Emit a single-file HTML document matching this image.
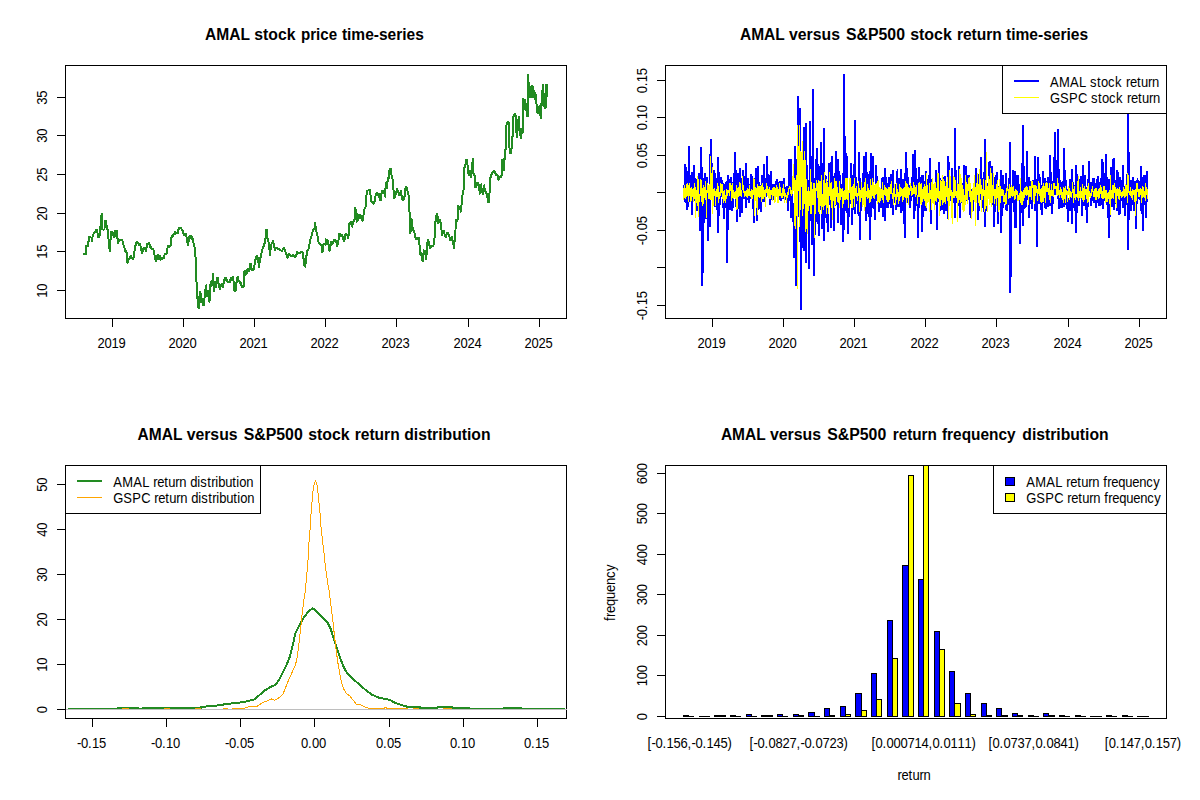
<!DOCTYPE html>
<html><head><meta charset="utf-8"><title>AMAL vs S&amp;P500</title>
<style>
html,body{margin:0;padding:0;background:#fff;}
svg{display:block;font-family:'Liberation Sans', sans-serif;fill:#000;}
</style></head><body>
<svg width="1200" height="800" viewBox="0 0 1200 800">
<rect width="1200" height="800" fill="#fff"/>
<g shape-rendering="crispEdges">
<rect x="65.5" y="65.5" width="501.0" height="253.0" fill="none" stroke="#000" stroke-width="1"/>
<line x1="112.5" y1="318" x2="112.5" y2="327" stroke="#000" stroke-width="1" />
<text transform="translate(97.5 348) scale(0.9286 1)" x="0 7.54 15.08 22.62" y="0" font-size="14">2019</text>
<line x1="183.5" y1="318" x2="183.5" y2="327" stroke="#000" stroke-width="1" />
<text transform="translate(168.5 348) scale(0.9286 1)" x="0 7.54 15.08 22.62" y="0" font-size="14">2020</text>
<line x1="254.5" y1="318" x2="254.5" y2="327" stroke="#000" stroke-width="1" />
<text transform="translate(239.5 348) scale(0.9286 1)" x="0 7.54 15.08 22.62" y="0" font-size="14">2021</text>
<line x1="325.5" y1="318" x2="325.5" y2="327" stroke="#000" stroke-width="1" />
<text transform="translate(310.5 348) scale(0.9286 1)" x="0 7.54 15.08 22.62" y="0" font-size="14">2022</text>
<line x1="396.5" y1="318" x2="396.5" y2="327" stroke="#000" stroke-width="1" />
<text transform="translate(381.5 348) scale(0.9286 1)" x="0 7.54 15.08 22.62" y="0" font-size="14">2023</text>
<line x1="468.5" y1="318" x2="468.5" y2="327" stroke="#000" stroke-width="1" />
<text transform="translate(453.5 348) scale(0.9286 1)" x="0 7.54 15.08 22.62" y="0" font-size="14">2024</text>
<line x1="539.5" y1="318" x2="539.5" y2="327" stroke="#000" stroke-width="1" />
<text transform="translate(524.5 348) scale(0.9286 1)" x="0 7.54 15.08 22.62" y="0" font-size="14">2025</text>
<line x1="57" y1="97.5" x2="66" y2="97.5" stroke="#000" stroke-width="1" />
<text transform="translate(47 104.8) rotate(-90) scale(0.9286 1)" x="0 7.54" y="0" font-size="14">35</text>
<line x1="57" y1="135.5" x2="66" y2="135.5" stroke="#000" stroke-width="1" />
<text transform="translate(47 142.8) rotate(-90) scale(0.9286 1)" x="0 7.54" y="0" font-size="14">30</text>
<line x1="57" y1="174.5" x2="66" y2="174.5" stroke="#000" stroke-width="1" />
<text transform="translate(47 181.8) rotate(-90) scale(0.9286 1)" x="0 7.54" y="0" font-size="14">25</text>
<line x1="57" y1="213.5" x2="66" y2="213.5" stroke="#000" stroke-width="1" />
<text transform="translate(47 220.8) rotate(-90) scale(0.9286 1)" x="0 7.54" y="0" font-size="14">20</text>
<line x1="57" y1="251.5" x2="66" y2="251.5" stroke="#000" stroke-width="1" />
<text transform="translate(47 258.8) rotate(-90) scale(0.9286 1)" x="0 7.54" y="0" font-size="14">15</text>
<line x1="57" y1="290.5" x2="66" y2="290.5" stroke="#000" stroke-width="1" />
<text transform="translate(47 297.8) rotate(-90) scale(0.9286 1)" x="0 7.54" y="0" font-size="14">10</text>
</g>
<text x="205.1" y="39.5" font-size="16" font-weight="bold" textLength="44.93" lengthAdjust="spacingAndGlyphs">AMAL</text>
<text x="254.3" y="39.5" font-size="16" font-weight="bold" textLength="41.13" lengthAdjust="spacingAndGlyphs">stock</text>
<text x="300.9" y="39.5" font-size="16" font-weight="bold" textLength="36.17" lengthAdjust="spacingAndGlyphs">price</text>
<text x="341.9" y="39.5" font-size="16" font-weight="bold" textLength="81.88" lengthAdjust="spacingAndGlyphs">time-series</text>
<path d="M83.5 254 L83.79 254.08 L84.15 255 L84.34 253.79 L84.82 253.79 L85.16 253.97 L85.37 254.58 L85.72 254.47 L86 254 L85.93 251.22 L86 248.93 L86.05 246.79 L86 246 L86.38 245.95 L86.68 245.91 L87.07 246.19 L87.33 246.52 L87.71 246.1 L88 246.5 L88.28 242.99 L88.39 241.56 L88.69 241.68 L88.73 239.16 L89 237 L89.28 236.83 L89.69 238 L89.96 237.07 L90.3 236.54 L90.68 237.38 L91 237.5 L91.37 237.34 L91.75 239.29 L92 241.5 L92.37 240.69 L92.6 234.91 L93 234.5 L93.41 235.41 L93.68 232.08 L94.07 233.13 L94.35 232.3 L94.74 232.35 L95 232 L95.43 231.78 L95.65 232.22 L95.93 231.26 L96.41 229.63 L96.58 230.82 L97 229 L97.21 229.42 L97.57 234.1 L98 232.73 L98.3 237.47 L98.5 238 L98.72 235.95 L99.01 237.37 L99.38 234.07 L99.63 235.38 L100 233 L100.24 230.32 L100.43 230.23 L100.48 225.56 L100.67 226.55 L100.85 222 L101 221.5 L101.29 218.46 L101.4 217.1 L101.55 214.34 L101.8 213.5 L101.84 215.87 L101.97 218.13 L101.94 218.87 L102.02 219.93 L102.21 223.2 L102.29 224.31 L102.34 226.13 L102.46 227.85 L102.5 230 L102.88 229.16 L103.2 229.95 L103.59 229.54 L103.85 229.33 L104.13 230.05 L104.5 229 L104.6 226.42 L104.77 225.27 L104.93 222.38 L105 220.5 L105.21 221.49 L105.56 219.82 L105.84 220.7 L106.2 221.5 L106.34 224.03 L106.59 225.61 L106.8 228.5 L107.06 228.76 L107.37 228.9 L107.77 230.06 L108 230 L108.03 231.06 L108.28 233 L108.29 236.39 L108.41 237.26 L108.5 239 L108.62 241.26 L108.81 243.25 L109.01 243.14 L109.3 246.83 L109.4 247.21 L109.67 250.6 L109.8 252 L109.87 250.48 L110.02 247.53 L110.13 246.68 L110.17 244.41 L110.47 241.78 L110.5 240 L110.77 239.59 L110.94 235.21 L110.97 235.88 L111.2 232.5 L111.63 231.07 L111.92 233.56 L112.25 231.3 L112.55 232.94 L113 232 L113.29 232.81 L113.58 237.4 L114 238 L114.34 235.02 L114.68 236.5 L114.92 232.02 L115.25 232.64 L115.5 230.5 L115.76 229.81 L116.1 231.96 L116.49 229.78 L116.67 232.11 L117 231 L117.21 232.13 L117.32 236.08 L117.34 236.04 L117.6 239.65 L117.73 240.55 L117.8 243 L118.2 243.16 L118.38 240.8 L118.89 241.6 L119.11 239.81 L119.5 239.5 L119.82 240.07 L120.12 239.04 L120.34 240.47 L120.68 239.36 L120.98 240.24 L121.45 238.99 L121.69 240.34 L122 240 L122.3 240.47 L122.68 241.31 L122.97 243.93 L123.26 244.26 L123.68 245.67 L124 246 L124.25 247.5 L124.6 248.57 L125 251 L125.36 250.44 L125.58 252.18 L125.89 251.95 L126.17 250.74 L126.5 252 L126.6 252.59 L126.77 255.7 L126.86 256.92 L127.01 259.48 L127.07 261.92 L127.2 263 L127.64 262.57 L128 262.11 L128.34 260.3 L128.56 259.73 L129 259 L129.4 259.39 L129.73 257.12 L130.03 256.08 L130.25 256.89 L130.68 255.47 L131 256 L131.39 257.28 L131.58 257.68 L132 258.5 L132.41 258.72 L132.6 258.53 L132.92 259.77 L133.4 258.39 L133.76 257.38 L134 258 L134.15 254.82 L134.32 254.4 L134.4 252.29 L134.58 250.58 L134.75 248.46 L134.8 247 L135.13 246.87 L135.49 245.69 L135.69 244.67 L136.08 244.36 L136.34 243.09 L136.67 241.49 L137 241.5 L137.25 241.43 L137.67 243.01 L138.05 243.56 L138.27 243.03 L138.7 243.1 L139 244 L139.3 245.74 L139.68 243.01 L139.82 245.89 L140.28 243.48 L140.5 245.5 L140.79 248.44 L141.04 246.82 L141.34 251.13 L141.66 249.98 L142 253 L142.34 253.29 L142.56 249.43 L142.88 252.27 L143.22 247.95 L143.5 249 L143.78 249.97 L144.07 247.41 L144.43 247.72 L144.81 248.43 L145.1 247.56 L145.5 248 L145.85 251.24 L146 252 L146.19 248.93 L146.47 248.14 L146.6 246.44 L146.8 244 L147.18 243.08 L147.52 244.5 L147.9 243.37 L148.1 243.43 L148.53 244.12 L148.9 243.09 L149.11 242.2 L149.5 244 L149.77 245.06 L150.24 244.74 L150.45 247.56 L150.8 246.3 L151.21 248.9 L151.5 249 L151.75 248.58 L152.13 250.18 L152.52 248.56 L152.73 250.24 L153.15 248.74 L153.5 249.5 L153.75 251.84 L154.14 253.2 L154.45 254.95 L154.67 255.53 L154.99 257.13 L155.45 260.04 L155.78 260.74 L156 262 L156.35 259.76 L156.56 260.35 L156.93 256.71 L157.15 257.59 L157.5 255 L157.89 254.65 L158.11 257.68 L158.4 256.77 L158.74 259.03 L159 259 L159.35 256.58 L159.7 257.02 L160 255 L160.34 255.62 L160.83 259.59 L161.2 260 L161.6 259.03 L161.79 259.99 L162.15 257.88 L162.47 259.66 L162.72 257.42 L163 257.8 L163.43 258.82 L163.7 257.86 L164 257 L164.29 255.95 L164.64 254.25 L165 254 L165.33 254.16 L165.62 253.83 L165.97 254.09 L166.31 253.26 L166.64 252.67 L167 254 L167.14 251.65 L167.05 250.48 L167.2 248 L167.42 248.16 L167.74 247.73 L168.04 245.98 L168.46 245.86 L168.75 247.41 L169 246.5 L169.28 246.02 L169.54 246.05 L169.84 245.18 L170.15 245.92 L170.5 246 L170.69 244.04 L170.83 241.81 L170.89 240.75 L171 238 L171.32 237.55 L171.64 236.13 L171.86 235.76 L172.22 237.79 L172.5 237 L172.85 235.69 L173.13 237.17 L173.4 235.22 L173.64 233.72 L174 234 L174.32 233.74 L174.65 234.67 L174.93 233.84 L175.33 231.65 L175.49 232.56 L175.79 233.54 L176.16 232.05 L176.5 233 L176.84 233.2 L177.25 233.65 L177.5 233.5 L177.87 231.28 L178.09 231.95 L178.5 229 L178.89 229.38 L179.14 227.56 L179.46 228.05 L179.79 227.07 L180 227.5 L180.38 228.3 L180.66 227.34 L180.92 228.43 L181.27 228.65 L181.71 229.25 L182 229 L182.34 230.96 L182.63 230.31 L182.99 233.04 L183.27 233.7 L183.75 234.02 L184 236 L184.31 235.36 L184.67 234.25 L184.9 234.03 L185.28 233.68 L185.66 233.59 L186 233 L186.22 234.42 L186.55 236.84 L186.79 239.05 L187.06 241.37 L187.43 241.16 L187.62 245.12 L188 246 L188.23 242.5 L188.41 243.85 L188.73 238.56 L189 238 L189.43 238.1 L189.59 235.14 L190 235.5 L190.25 237.48 L190.59 234.63 L190.85 237.88 L191.21 235.37 L191.56 239.65 L191.84 235.97 L192.14 239.8 L192.5 239 L192.86 238.33 L193.2 241.47 L193.59 243.29 L193.74 244.28 L194.08 245.63 L194.5 247 L194.61 249.1 L194.93 251.19 L195.19 253.43 L195.3 254.69 L195.5 257 L195.66 259.49 L195.55 259.11 L195.8 262.33 L195.7 265.63 L195.77 266.08 L195.9 269.9 L196.08 269.69 L195.99 273.24 L196.2 274.02 L196.2 276 L196.31 276.5 L196.38 280.27 L196.45 281.05 L196.55 283.37 L196.63 284.1 L196.84 286.6 L196.88 287.53 L197.04 289.94 L197 292.24 L197.2 294 L197.4 294.68 L197.44 298.28 L197.71 300.12 L197.92 303.54 L198 304 L198.32 308.16 L198.71 304.8 L199 309 L199.05 308.76 L199.12 304.09 L199.14 306.06 L199.21 299.57 L199.39 300.93 L199.34 296.39 L199.5 296 L199.93 294.83 L200.3 291 L200.35 290.8 L200.69 296.12 L200.76 295.06 L200.96 300.09 L201.11 298.11 L201.2 302 L201.46 302.95 L201.77 298.63 L202.1 301.42 L202.5 298 L202.84 298.88 L203.08 303.4 L203.19 304.77 L203.5 306 L203.82 304.63 L204.05 301.48 L204.32 299.74 L204.49 298.05 L204.67 297.73 L205 295 L205.26 293.55 L205.34 290.08 L205.65 288.13 L205.72 286.78 L206 285 L206.13 285.19 L206.28 289.86 L206.38 288.23 L206.55 294.46 L206.64 292.74 L206.8 296 L207.17 297.03 L207.52 290.89 L208 291 L208.13 294.27 L208.45 292.08 L208.7 299 L208.89 296.26 L208.98 302.11 L209.2 302 L209.44 297.38 L209.52 300.62 L209.66 293.67 L209.92 296.7 L210 292 L210.25 288.61 L210.25 289.71 L210.46 284.25 L210.69 286.59 L210.88 281.69 L211 281 L211.39 283.86 L211.85 282.03 L212.2 285 L212.32 285.46 L212.49 280.09 L212.62 281.25 L212.92 276.34 L213.13 278.05 L213.2 274 L213.36 273.13 L213.29 279.28 L213.43 277.81 L213.53 283.13 L213.67 281.34 L213.67 286.34 L213.82 284.08 L213.79 289.96 L213.82 287.81 L214 292 L214.25 291.29 L214.41 286.05 L214.66 287.16 L214.95 281.67 L215.2 282 L215.59 286.67 L215.77 283.33 L216.2 288 L216.32 287.55 L216.6 282.55 L216.86 283.66 L217.03 279.43 L217.34 280.31 L217.5 277 L217.79 277.58 L218.15 282.82 L218.5 284 L218.84 283.1 L219.05 287.64 L219.33 286.84 L219.7 288.87 L220 290 L220.37 287.39 L220.53 286.99 L220.8 286.19 L221.28 284.14 L221.5 284 L221.79 283.46 L222.16 284.67 L222.42 284.81 L222.63 286.37 L223 288 L223.24 286.7 L223.61 283.39 L223.88 280.32 L224.19 281.63 L224.5 279 L224.79 277.61 L225.03 279.92 L225.4 277.6 L225.77 279.07 L226 278 L226.39 277.59 L226.51 280.64 L226.91 279.39 L227.16 282.13 L227.5 282 L227.92 280.89 L228.2 282.62 L228.5 281.16 L228.93 283.27 L229.11 280.94 L229.5 282 L229.74 282.49 L230.17 279.55 L230.35 280.4 L230.79 277.49 L231 278 L231.31 279.8 L231.59 279.23 L232 281 L232.43 280.08 L232.61 277.06 L233 276 L233.1 278.58 L233.42 278.78 L233.59 282.84 L233.65 282.3 L234.03 286.14 L234.08 286.26 L234.27 290.68 L234.5 291 L234.71 289.16 L235.19 291.82 L235.48 289.31 L235.8 291.34 L236 290 L236.2 286.19 L236.24 287.09 L236.44 282.07 L236.73 283.16 L236.74 277.92 L237 278 L237.31 278.63 L237.59 277.09 L238 277 L238.29 276.51 L238.59 281.18 L239 281 L239.27 281.45 L239.68 281.73 L239.99 282.06 L240.3 283.37 L240.5 282 L240.77 282.14 L241.1 285.53 L241.36 283.71 L241.67 286.65 L242 287 L242.39 285.5 L242.66 287.83 L242.99 285.36 L243.4 287.47 L243.69 285.35 L244 286 L244.13 285.64 L244.22 281.45 L244.12 281.8 L244.19 277.62 L244.41 277.31 L244.45 273.73 L244.34 273.61 L244.5 271 L244.86 270.56 L245.14 273.94 L245.45 272.43 L245.71 274.81 L246 275 L246.23 272.9 L246.56 273.63 L246.87 270.45 L247.17 271 L247.5 269 L247.9 268.37 L248.17 271.1 L248.36 268.98 L248.65 271.93 L249 271 L249.3 268.55 L249.57 269.31 L249.86 264.78 L250.19 266.36 L250.5 263 L250.84 264.1 L251.26 269.33 L251.5 270 L251.8 268.58 L252.04 271.14 L252.51 268.45 L252.66 271.06 L253.04 267.73 L253.35 271.03 L253.7 268.17 L254 269 L254.29 268.67 L254.64 263.34 L254.86 264.11 L255.18 259.73 L255.5 259 L255.83 259.52 L256.18 258.04 L256.34 256.81 L256.67 256.37 L257 256 L257.25 256.34 L257.63 257.04 L258 258 L258.17 259.96 L258.4 262.19 L258.55 262.72 L258.71 265.72 L258.8 268 L259.14 266.74 L259.32 263.55 L259.7 262.57 L260 260 L260.41 257.97 L260.73 256.88 L261.02 256.01 L261.3 254.16 L261.57 252.6 L262 251 L262.29 250.25 L262.64 248.56 L263.03 247.15 L263.37 246.94 L263.76 245.67 L264 245 L264.34 243.74 L264.65 242.95 L265 241.23 L265.2 239.5 L265.5 238 L265.68 236.24 L265.87 235.58 L266.08 231.68 L266.24 229.36 L266.5 229 L266.68 230.17 L266.81 233.97 L267.19 235.6 L267.22 235.97 L267.5 239 L267.75 239.44 L268.11 238.65 L268.36 241.11 L268.71 242.57 L269 242 L269.08 243.87 L269.21 245.48 L269.43 249.64 L269.63 249.45 L269.8 251.49 L269.8 254.82 L270 256 L270.19 253.02 L270.34 253.32 L270.54 247.92 L270.89 250.01 L271.08 244.94 L271.2 244 L271.47 244.94 L271.76 241.85 L272.15 244.07 L272.5 242 L272.87 240.35 L273.08 243.78 L273.34 241.77 L273.65 244.84 L274 244 L274.3 244.5 L274.61 249.72 L275 251 L275.32 248.98 L275.71 248.45 L276 248 L276.28 247.93 L276.6 247.81 L277.05 247.54 L277.35 247.88 L277.69 249.45 L278 249 L278.39 248.91 L278.74 249.43 L278.95 248.45 L279.41 249.73 L279.73 249.61 L280 250 L280.3 249.27 L280.66 251.23 L281.04 250.04 L281.38 251.21 L281.59 250.16 L282 251 L282.4 250.98 L282.67 249.05 L282.99 249.83 L283.35 247.71 L283.61 248.47 L284 247 L284.35 247.59 L284.56 249.66 L284.98 249.16 L285.21 250.48 L285.5 252 L285.88 254.52 L286.07 254.65 L286.55 254.09 L286.83 256.69 L287.12 256.17 L287.5 258 L287.81 258.12 L288.02 255.69 L288.36 256.42 L288.63 253.86 L289 254 L289.27 255.05 L289.68 253.94 L289.91 255.52 L290.27 254.56 L290.6 256.46 L291 256 L291.32 255.36 L291.7 256.82 L291.92 254.83 L292.21 255.99 L292.65 254.71 L292.96 255.78 L293.17 254.35 L293.5 255 L293.93 255.96 L294.18 255.09 L294.44 256.79 L294.93 255.73 L295.21 257.65 L295.5 257 L295.75 255.11 L296.21 255.22 L296.49 254.5 L296.93 253.09 L297.1 252.2 L297.5 252 L297.83 253.6 L298.07 252.68 L298.47 254.15 L298.74 253.57 L299 254 L299.3 252.68 L299.63 253.46 L299.95 252.29 L300.18 252.31 L300.59 252.28 L300.88 252.07 L301.28 252.68 L301.5 251 L301.77 252.54 L302.01 251.55 L302.48 252.16 L302.64 253.74 L303 255 L303.43 258.45 L303.66 257.77 L304 262 L304.26 265.56 L304.7 263.7 L305 267 L305.27 266.72 L305.69 261.92 L306 261 L306.13 261.09 L306.32 256.09 L306.59 255.17 L306.9 252.22 L307 251 L307.34 250.12 L307.5 249.8 L307.83 249.56 L308.11 250.61 L308.5 249 L308.93 246.62 L309.09 245.59 L309.5 244 L309.89 242.92 L310.16 240.58 L310.44 239.65 L310.82 238.05 L311.11 237.56 L311.5 236 L311.78 234.1 L312.11 234.17 L312.41 232.79 L312.6 230.66 L313 230 L313.21 229.42 L313.61 229.32 L313.85 229.85 L314.23 229.28 L314.5 229 L314.71 225.75 L314.8 223.83 L315 222.5 L315.16 224.26 L315.42 226.51 L315.84 227.22 L316 230 L316.29 230.23 L316.53 231.85 L316.87 234.09 L317.3 234.8 L317.5 236 L317.83 238.68 L318.12 240.65 L318.5 242 L318.74 243.07 L319.16 242.29 L319.57 244.26 L319.91 243.37 L320.13 244.81 L320.5 244 L320.83 245.02 L321.09 245.12 L321.5 246 L321.76 248.65 L321.88 251.75 L322.2 252 L322.62 251.09 L322.9 248.12 L323.18 246.31 L323.5 244 L323.83 244.31 L324.02 243.45 L324.49 244.16 L324.6 243.95 L325 245 L325.49 244.43 L325.84 243.14 L326.2 240 L326.48 238.68 L326.82 242.19 L327.06 240.06 L327.35 243.23 L327.65 240.13 L328 242 L328.27 245.18 L328.57 243.7 L328.66 248.94 L328.87 247.85 L329.2 251 L329.52 250.89 L329.75 246.61 L330.02 248.15 L330.4 244.53 L330.78 245.58 L331 243 L331.27 241.54 L331.51 244.88 L331.95 241.71 L332.25 245.19 L332.5 244 L332.74 241.73 L333.05 242.5 L333.43 241.36 L333.75 241.03 L334 239 L334.33 240.42 L334.64 240.49 L334.94 239.15 L335.31 240.32 L335.75 239.9 L336 241 L336.34 241.99 L336.84 246.11 L337.2 247 L337.62 244.34 L337.93 244.4 L338.1 242.81 L338.5 240 L338.82 239.03 L339.04 234.3 L339.2 233 L339.49 235.03 L339.74 232.79 L340.08 235.62 L340.39 233.27 L340.65 236.39 L341 235 L341.39 234.46 L341.58 236.46 L341.86 233.83 L342.28 236.61 L342.5 236 L342.74 236.02 L343.05 239.73 L343.37 237.31 L343.64 241.05 L344 241 L344.31 238.39 L344.6 239.55 L344.97 236.06 L345.26 237.02 L345.5 234.5 L345.71 233.86 L346.03 234.3 L346.49 234.74 L346.71 235.57 L347 234 L347.32 234.67 L347.88 237.09 L348.2 239 L348.31 237.32 L348.46 234.94 L348.76 235.48 L348.76 231.36 L349 230 L349.15 228.93 L349.36 224.51 L349.5 223 L349.75 223.82 L350.12 221.96 L350.47 222.96 L350.63 221.38 L351 222 L351.26 224.47 L351.68 224.54 L352 227 L352.27 226.67 L352.6 223.82 L352.89 224.57 L353.2 221.04 L353.5 221 L353.77 221.3 L354.16 219.11 L354.5 220 L354.56 219.01 L354.64 214.29 L354.72 213.6 L354.84 211.59 L354.91 209.67 L355 207.5 L355.39 207.46 L355.74 211.03 L356.2 210 L356.26 209.61 L356.4 215.74 L356.55 213.53 L356.74 218.34 L356.94 217.13 L357 221 L357.43 222.25 L357.64 218.36 L358.05 219.54 L358.38 216.16 L358.77 218.81 L359 216 L359.41 214.35 L359.58 217.97 L359.92 214.4 L360.4 217.68 L360.7 215.55 L361 217 L361.24 218.74 L361.51 216.73 L361.99 220.99 L362.24 219.01 L362.5 221 L362.86 220.9 L363.21 215.07 L363.5 215 L363.77 213.92 L364.17 211.02 L364.5 209 L364.85 208.88 L365.09 207.56 L365.5 207 L365.6 205.7 L365.73 202.69 L365.86 202.45 L365.97 200.78 L366 198 L366.27 195.55 L366.75 193.91 L367 191 L367.34 190.1 L367.71 190.97 L368.05 190.2 L368.39 190.99 L368.75 190.08 L369 190 L369.38 190.13 L369.76 188.99 L370 189.5 L370.19 191.13 L370.37 193.74 L370.62 196.11 L370.83 196.55 L370.99 201.38 L371.2 202 L371.53 201.64 L371.82 201.53 L372.2 201.75 L372.38 202.75 L372.83 203.26 L372.98 202.68 L373.42 202.69 L373.63 203.86 L374 204 L374.18 200.75 L374.52 201.66 L374.69 197.1 L375 196 L375.42 196.84 L375.68 193.82 L376.03 196.29 L376.37 192.67 L376.65 195.24 L377 194 L377.24 192.61 L377.63 196.3 L378.03 193.2 L378.33 196.36 L378.67 192.77 L379 195 L379.21 197.56 L379.57 195.75 L379.87 200.22 L380.11 198.89 L380.5 201 L380.67 200.11 L381.02 194.95 L381.29 196.22 L381.5 193 L381.72 190.99 L382.07 194.41 L382.37 190 L382.7 193.29 L383.13 189.69 L383.3 193.18 L383.73 189.77 L384 191 L384.42 193.98 L384.75 192.96 L385 197 L385.12 196.97 L385.15 191.03 L385.22 192.69 L385.46 188.36 L385.55 188.65 L385.68 184.32 L385.74 185.8 L385.8 182 L386.15 184.47 L386.57 186.47 L387 189 L387.21 186.09 L387.31 185.85 L387.37 184.61 L387.53 181.13 L387.64 179.82 L387.8 178 L388.17 176.86 L388.68 178.23 L389 179 L389 176.82 L389.14 174.85 L389.31 172.86 L389.48 169.78 L389.5 170 L389.82 170.03 L390.03 170.55 L390.47 167.9 L390.75 170.03 L391 168.5 L391.15 168.54 L391.28 173.15 L391.5 175 L391.88 177.45 L392.14 176.33 L392.5 179 L392.63 180.16 L392.81 183.64 L392.99 182.84 L393.17 188.1 L393.43 186.88 L393.5 190 L393.72 194.43 L393.77 193.39 L394 197 L394.36 198.49 L394.54 194.42 L394.9 197.67 L395.22 194 L395.5 195 L395.83 195.31 L396.2 190.69 L396.41 192.45 L396.73 188.02 L397 189 L397.37 191.48 L397.66 189.66 L397.92 193.14 L398.22 190.88 L398.5 193 L398.81 194.47 L399.19 192.55 L399.39 196.19 L399.68 192.68 L400 195 L400.27 195.27 L400.72 190.28 L401 191 L401.17 194.93 L401.4 192.99 L401.75 198.66 L402 199 L402.3 197.77 L402.65 200.6 L403 196.93 L403.33 199.38 L403.48 196.31 L403.79 199.71 L404.24 196.01 L404.5 197 L404.71 196.26 L404.92 191.34 L405.07 190.93 L405.32 189.88 L405.5 188 L405.86 186.17 L406.27 186.97 L406.5 187 L406.89 188.94 L407.05 189.93 L407.46 190.61 L407.75 191.95 L408 193 L408.27 194.46 L408.75 195.87 L409 196 L409.14 197.88 L409.13 200.37 L409.16 203.35 L409.3 205.2 L409.32 206.36 L409.42 208.26 L409.5 210 L409.48 211.46 L409.62 212.85 L409.61 217.09 L409.69 217.76 L409.87 220.73 L409.87 223 L409.97 224.02 L409.9 225.15 L409.93 229.35 L410.14 227.91 L410.21 233.59 L410.2 233 L410.35 228.56 L410.53 231.5 L410.61 225.02 L410.69 226.12 L410.91 221.52 L411.15 222.28 L411.2 219 L411.51 218.99 L411.67 225.53 L412.07 222.48 L412.17 228.51 L412.5 229 L412.91 227.29 L413.23 230.57 L413.42 230.09 L413.78 232.26 L414.08 231.18 L414.5 233 L414.89 234.85 L415.05 237.48 L415.46 236.99 L415.69 238.62 L416 239 L416.35 236.94 L416.55 238.1 L417.01 239.71 L417.34 237.76 L417.53 237.59 L417.78 238.06 L418.14 237.51 L418.5 237 L418.78 238.4 L419.07 238.68 L419.23 243.56 L419.5 245 L419.65 245.86 L419.84 249.56 L420.06 252.9 L420.31 251.32 L420.5 255 L420.76 256.08 L421.2 252.42 L421.5 253 L421.86 256.19 L422.13 254.8 L422.5 261.2 L422.8 261 L423.01 256.99 L423.24 259.25 L423.4 254.34 L423.59 255.35 L423.88 250.04 L424 250 L424.36 252.37 L424.64 249.71 L424.99 252.95 L425.13 250.7 L425.5 252 L425.65 256.22 L425.87 254.15 L426.01 259.44 L426.2 260 L426.4 256.34 L426.46 257.62 L426.54 252.69 L426.65 253.72 L426.62 247.91 L426.82 250.21 L426.89 244.75 L427 244 L427.25 243.17 L427.71 240.85 L428 239 L428.41 241.85 L428.64 241.87 L429 243 L429.38 245.45 L429.71 245.68 L430 248 L430.29 248.51 L430.58 246.35 L430.94 247.85 L431.33 246.19 L431.69 247.13 L432 246 L432.42 245.05 L432.6 246.48 L433.09 244.8 L433.25 245.73 L433.71 244.18 L434 244.5 L434.1 242.66 L434.3 239.33 L434.5 238 L434.62 236.86 L434.7 235.35 L434.79 231.55 L434.88 229.58 L434.95 229.06 L435.08 227.25 L435.16 223.06 L435.2 222 L435.41 222.44 L435.9 218.34 L436.16 218.81 L436.31 215.32 L436.6 216.73 L437 214 L437.26 213.36 L437.68 217.72 L437.88 216.13 L438.25 218.88 L438.5 219 L438.08 219.84 L437.91 223.18 L437.5 224 L437.78 222.51 L438.14 224.2 L438.53 221.33 L438.75 223.09 L439.01 219.85 L439.44 221.91 L439.77 219.44 L440 220 L440.3 222 L440.59 222.64 L441 225 L441.19 228.66 L441.34 227.91 L441.67 231.96 L441.81 232.14 L442 235 L442.34 235.56 L442.65 232.07 L443.06 233.43 L443.35 229.98 L443.75 231.83 L444 230 L444.27 231.4 L444.73 236.06 L445 237 L445.26 235 L445.6 237.44 L446.1 233.91 L446.38 235.91 L446.74 232.86 L447 233 L447.24 234.49 L447.75 232.09 L447.99 234.77 L448.3 232.64 L448.72 235.71 L449 235 L449.43 235.8 L449.74 240.64 L450 241 L450.27 238.85 L450.68 241.13 L451.01 237.76 L451.27 239.38 L451.64 235.96 L452 237 L452.43 239.83 L452.7 239.73 L452.93 244.09 L453.4 243.92 L453.75 248.02 L454 249 L454.25 245.95 L454.32 245.91 L454.43 242.14 L454.64 242.28 L454.78 237.7 L455 237 L455.25 234.41 L455.25 232.99 L455.5 230 L455.61 226.84 L455.65 227.19 L455.73 224.98 L455.8 222.79 L456 221 L456.26 219.33 L456.56 221.19 L456.8 220.5 L457.23 219.89 L457.5 220 L457.5 218.83 L457.66 216.52 L457.67 214.52 L457.81 211.29 L457.81 209.92 L457.9 207.74 L458 206 L458.33 205.56 L458.55 206.38 L458.84 207.22 L459.12 206.38 L459.5 207 L459.88 208.39 L460.08 209.4 L460.49 208.1 L460.75 211.71 L461 212 L461.14 210.04 L461.24 208.71 L461.38 205.68 L461.62 204.45 L461.71 201.31 L461.88 199.47 L462 198 L462.37 196.33 L462.59 194.64 L462.95 192.1 L463.17 193.29 L463.5 190 L463.53 189.01 L463.56 186.46 L463.58 185.36 L463.72 183.27 L463.77 180.18 L463.74 178.88 L463.7 177.73 L463.82 175.66 L463.91 175.1 L463.85 170.64 L463.93 169.87 L464 168 L464.33 167.74 L464.59 167.32 L464.93 165.73 L465.22 165.17 L465.5 164 L465.79 161.79 L466.08 159.91 L466.5 159.5 L466.84 161.65 L467.12 162.66 L467.5 165 L467.76 166.79 L467.86 168.29 L468.08 172.65 L468.26 170.28 L468.5 174 L468.8 175.47 L469.02 171.21 L469.36 175.78 L469.79 170.09 L470 173 L470.37 175.84 L470.59 173.75 L471 177 L471.25 178.08 L471.36 170.59 L471.51 174.61 L471.7 167.13 L471.9 170.72 L472 166 L472.19 162.29 L472.52 164.54 L472.82 158.45 L473 158.5 L473.1 163.3 L473.16 160.1 L473.25 165.94 L473.33 164.75 L473.27 170.63 L473.39 168.5 L473.48 174.2 L473.5 174 L473.88 173.16 L474.09 175.62 L474.42 174.58 L474.69 176.88 L475 177 L475.08 180 L475.12 179.82 L475.17 184.31 L475.4 183.42 L475.42 187.43 L475.5 188 L475.84 185.48 L476.15 187.2 L476.47 184.19 L476.73 185.19 L477 183 L477.35 182.02 L477.62 184.67 L477.97 182.4 L478.14 185.55 L478.5 184 L478.76 184.6 L478.77 189.76 L479 191 L479.43 190.06 L479.72 193.97 L480 194 L480.15 190.06 L480.36 191.76 L480.6 186.23 L480.72 187.38 L481 184 L481.37 184.4 L481.58 189.16 L482 190 L482.29 190.41 L482.72 194.69 L483 194 L483.25 190.3 L483.38 191.37 L483.67 186.64 L483.86 188.81 L484 185 L484.39 185.33 L484.65 190.92 L485 191 L485.26 190.55 L485.55 192.63 L485.86 190.67 L486.12 193.71 L486.5 193 L486.84 193.42 L487.26 197.86 L487.5 198 L487.78 198.77 L488.25 202.24 L488.5 203 L488.73 199.62 L488.8 201.2 L489.13 198.19 L489.28 195.39 L489.5 194 L489.53 192.12 L489.59 189.61 L489.65 188.29 L489.76 185.7 L489.88 184.01 L490 182.54 L490 181 L490.29 178.42 L490.74 176.56 L491 176 L491.2 176.32 L491.52 174.44 L491.94 174.27 L492.2 171.99 L492.5 173 L492.82 172.12 L493.2 171.9 L493.47 171.8 L493.73 172.06 L494 170.5 L494.35 170.85 L494.69 172.38 L494.95 173.18 L495.26 172.74 L495.5 174 L495.81 173.21 L496.11 175.28 L496.55 175.78 L496.74 174.67 L497.13 174.34 L497.5 175 L497.88 177.26 L498.18 177.76 L498.5 180 L498.77 180.22 L499.09 177.77 L499.43 179 L499.64 176.88 L500 177 L500.38 177.76 L500.67 175.52 L500.96 176.87 L501.41 176.57 L501.59 175.78 L502 175 L502.04 170.33 L502.18 173.7 L502.13 167.48 L502.35 169.52 L502.33 162.62 L502.43 164.96 L502.5 158.59 L502.5 159 L502.82 162.38 L503.01 160.04 L503.19 165.6 L503.49 164.2 L503.78 170.73 L504 170 L504.03 165.89 L504.24 168.13 L504.38 161.73 L504.4 163.91 L504.42 157.83 L504.54 159.79 L504.67 154.44 L504.87 157.03 L504.81 150.51 L505 151 L505.37 149.46 L505.74 147.67 L506 148 L506 150 L506.07 148.65 L506.01 145.38 L506.09 145.09 L505.97 143.18 L506.04 139.36 L506.06 139.44 L505.92 136.41 L505.94 135.72 L506.01 134.27 L505.91 132.76 L505.98 129.87 L505.91 128.03 L506 126.5 L506.42 125.06 L506.64 124.57 L507 123.5 L507.27 123.51 L507.67 121.94 L507.93 122.15 L508.3 122.85 L508.5 121.5 L508.68 123.3 L508.97 125 L508.99 127.59 L509.25 129 L509.2 130.28 L509.33 132.8 L509.2 134.16 L509.2 136.1 L509.25 137.3 L509.26 139.89 L509.28 141.76 L509.18 144.74 L509.25 146 L509.56 147.83 L509.96 149.24 L510.13 151.47 L510.5 154 L510.74 151.7 L511.09 151.15 L511.45 149.06 L511.8 148.63 L512 147 L511.97 145.55 L512.09 142.89 L511.91 141.3 L512.09 139.17 L512 137 L512.25 135.81 L512.74 136.3 L513 136 L513.08 135.28 L513.01 132.06 L512.96 129.98 L512.93 128.69 L512.91 126.11 L513.08 124.52 L512.97 123.24 L512.99 119.25 L513 118.5 L513.29 116.48 L513.67 116.79 L513.97 115.04 L514.23 115.37 L514.6 113.8 L515 114.5 L515.36 115.78 L515.69 115.6 L516 115.5 L515.92 117.78 L515.98 118.11 L516.05 121.24 L516.05 123.12 L516.05 124.03 L516.01 125.49 L516.05 127.58 L516 130 L516.28 131.64 L516.54 133.16 L516.71 133.97 L517 137.5 L517.08 135.9 L517.08 132.51 L517.25 131.05 L517.28 130.24 L517.4 128.16 L517.37 126.95 L517.5 123.5 L517.88 120.3 L518.01 119.77 L518.47 119.47 L518.66 117.99 L519 116.5 L519.01 118.95 L519.13 119.97 L519.16 122.58 L519.34 123.83 L519.29 123.71 L519.42 126.84 L519.42 128 L519.5 131 L519.83 132.98 L520.07 135.26 L520.46 135.35 L520.78 136.74 L521 138.5 L521.14 136.79 L521.26 134.23 L521.24 132.89 L521.34 130.95 L521.5 128 L521.9 130.47 L522.18 131.78 L522.5 133.5 L523 129 L523 111.5 L522.8 110.5 L523.5 98.5 L524.3 110 L525 99 L525.8 110.5 L526.2 103 L527 116.5 L527.6 104 L528.2 116.5 L528.3 74 L528.9 97 L529.5 85.5 L530.2 97.5 L531 86.5 L531.8 97.5 L532.5 85.5 L533.2 97.5 L534 90 L534.7 99.5 L535.3 92 L535.8 99.5 L536.2 94 L536.8 112.5 L537.5 106.5 L538.2 114 L539 106 L539.7 116 L540.3 105 L541 118.5 L541.5 104 L541.8 90.5 L542.3 106 L542.8 84.5 L543.6 107 L544.3 93.5 L545 108.5 L545.6 97 L546.2 108 L546.5 84.5 L547.2 97 L547.5 84.5" fill="none" stroke="#228B22" stroke-width="2" stroke-linejoin="bevel" stroke-linecap="butt" shape-rendering="crispEdges"/>
<g shape-rendering="crispEdges">
<rect x="665.5" y="65.5" width="501.0" height="253.0" fill="none" stroke="#000" stroke-width="1"/>
<line x1="712.5" y1="318" x2="712.5" y2="327" stroke="#000" stroke-width="1" />
<text transform="translate(697.5 348) scale(0.9286 1)" x="0 7.54 15.08 22.62" y="0" font-size="14">2019</text>
<line x1="783.5" y1="318" x2="783.5" y2="327" stroke="#000" stroke-width="1" />
<text transform="translate(768.5 348) scale(0.9286 1)" x="0 7.54 15.08 22.62" y="0" font-size="14">2020</text>
<line x1="854.5" y1="318" x2="854.5" y2="327" stroke="#000" stroke-width="1" />
<text transform="translate(839.5 348) scale(0.9286 1)" x="0 7.54 15.08 22.62" y="0" font-size="14">2021</text>
<line x1="925.5" y1="318" x2="925.5" y2="327" stroke="#000" stroke-width="1" />
<text transform="translate(910.5 348) scale(0.9286 1)" x="0 7.54 15.08 22.62" y="0" font-size="14">2022</text>
<line x1="996.5" y1="318" x2="996.5" y2="327" stroke="#000" stroke-width="1" />
<text transform="translate(981.5 348) scale(0.9286 1)" x="0 7.54 15.08 22.62" y="0" font-size="14">2023</text>
<line x1="1068.5" y1="318" x2="1068.5" y2="327" stroke="#000" stroke-width="1" />
<text transform="translate(1053.5 348) scale(0.9286 1)" x="0 7.54 15.08 22.62" y="0" font-size="14">2024</text>
<line x1="1139.5" y1="318" x2="1139.5" y2="327" stroke="#000" stroke-width="1" />
<text transform="translate(1124.5 348) scale(0.9286 1)" x="0 7.54 15.08 22.62" y="0" font-size="14">2025</text>
<line x1="657" y1="80.5" x2="666" y2="80.5" stroke="#000" stroke-width="1" />
<text transform="translate(647 93.3) rotate(-90) scale(0.9286 1)" x="0 7.54 11.85 19.38" y="0" font-size="14">0.15</text>
<line x1="657" y1="117.5" x2="666" y2="117.5" stroke="#000" stroke-width="1" />
<text transform="translate(647 130.3) rotate(-90) scale(0.9286 1)" x="0 7.54 11.85 19.38" y="0" font-size="14">0.10</text>
<line x1="657" y1="155.5" x2="666" y2="155.5" stroke="#000" stroke-width="1" />
<text transform="translate(647 168.3) rotate(-90) scale(0.9286 1)" x="0 7.54 11.85 19.38" y="0" font-size="14">0.05</text>
<line x1="657" y1="192.5" x2="666" y2="192.5" stroke="#000" stroke-width="1" />
<line x1="657" y1="230.5" x2="666" y2="230.5" stroke="#000" stroke-width="1" />
<text transform="translate(647 245.3) rotate(-90) scale(0.9286 1)" x="0 4.31 11.85 16.15 23.69" y="0" font-size="14">-0.05</text>
<line x1="657" y1="267.5" x2="666" y2="267.5" stroke="#000" stroke-width="1" />
<line x1="657" y1="305.5" x2="666" y2="305.5" stroke="#000" stroke-width="1" />
<text transform="translate(647 320.3) rotate(-90) scale(0.9286 1)" x="0 4.31 11.85 16.15 23.69" y="0" font-size="14">-0.15</text>
</g>
<text x="739.95" y="39.5" font-size="16" font-weight="bold" textLength="44.78" lengthAdjust="spacingAndGlyphs">AMAL</text>
<text x="789" y="39.5" font-size="16" font-weight="bold" textLength="50.95" lengthAdjust="spacingAndGlyphs">versus</text>
<text x="846" y="39.5" font-size="16" font-weight="bold" textLength="58.93" lengthAdjust="spacingAndGlyphs">S&amp;P500</text>
<text x="910.2" y="39.5" font-size="16" font-weight="bold" textLength="41.63" lengthAdjust="spacingAndGlyphs">stock</text>
<text x="956.9" y="39.5" font-size="16" font-weight="bold" textLength="44.96" lengthAdjust="spacingAndGlyphs">return</text>
<text x="1006" y="39.5" font-size="16" font-weight="bold" textLength="82.17" lengthAdjust="spacingAndGlyphs">time-series</text>
<clipPath id="c2"><rect x="665.5" y="65.5" width="501.0" height="253.0"/></clipPath>
<g clip-path="url(#c2)">
<path d="M683.5 195.29 L683.78 187.53 L684.07 194.99 L684.35 185.28 L684.63 202.11 L684.92 181.82 L685.2 181.45 L685.48 164 L685.76 182.21 L686.05 190.18 L686.33 202.79 L686.61 184.7 L686.9 210 L687.18 184.05 L687.46 187.58 L687.75 187.65 L688.03 206.93 L688.31 170.58 L688.6 201.7 L688.88 146 L689.16 189.61 L689.45 193.16 L689.73 187.43 L690.01 177.8 L690.29 189.58 L690.58 188.71 L690.86 186 L691.14 175.32 L691.43 184.96 L691.71 205.28 L691.99 172 L692.28 214.5 L692.56 196.18 L692.84 181.95 L693.13 184.49 L693.41 177.65 L693.69 197.23 L693.97 165 L694.26 197.97 L694.54 177.62 L694.82 200.88 L695.11 182.06 L695.39 188.38 L695.67 207.77 L695.96 192.21 L696.24 179.48 L696.52 210.69 L696.81 195.95 L697.09 193.77 L697.37 200.97 L697.65 187.67 L697.94 188.16 L698.22 207.52 L698.5 184.32 L698.79 185.93 L699.07 173 L699.35 207.9 L699.64 184.38 L699.92 206.55 L700.2 205.85 L700.49 231 L700.77 198.89 L701.05 147 L701.34 211.73 L701.62 177.07 L701.9 167 L702.18 174.64 L702.47 285.6 L702.75 207.45 L703.03 225.59 L703.32 178.1 L703.6 223.41 L703.88 210.69 L704.17 210.69 L704.45 185.61 L704.73 200.15 L705.02 173 L705.3 182.81 L705.58 181.55 L705.86 219 L706.15 185.43 L706.43 206.43 L706.71 176.57 L707 201.14 L707.28 187.45 L707.56 187.16 L707.85 208.57 L708.13 240.5 L708.41 205.55 L708.7 187.34 L708.98 211.99 L709.26 199.11 L709.55 226.5 L709.83 204.33 L710.11 154 L710.39 182.38 L710.68 172.76 L710.96 139 L711.24 187.12 L711.53 163.24 L711.81 189.41 L712.09 186.12 L712.38 191.48 L712.66 181.11 L712.94 199.39 L713.23 196.9 L713.51 170 L713.79 185.03 L714.07 201.61 L714.36 183.12 L714.64 177.87 L714.92 173 L715.21 206.66 L715.49 194.06 L715.77 194.21 L716.06 184.97 L716.34 178.49 L716.62 210 L716.91 179.95 L717.19 205.53 L717.47 200.66 L717.76 213 L718.04 157 L718.32 233 L718.6 171.62 L718.89 216.15 L719.17 179.57 L719.45 208.4 L719.74 194.48 L720.02 189.89 L720.3 186.91 L720.59 192.69 L720.87 184.97 L721.15 186.97 L721.44 176.99 L721.72 189.41 L722 197.03 L722.28 196.47 L722.57 192.83 L722.85 183.35 L723.13 196.11 L723.42 208.42 L723.7 183.8 L723.98 219 L724.27 204.07 L724.55 208.07 L724.83 188.67 L725.12 199.1 L725.4 197.06 L725.68 186.07 L725.96 189.85 L726.25 197.98 L726.53 180.61 L726.81 234.57 L727.1 198.31 L727.38 262.5 L727.66 194.98 L727.95 175 L728.23 210.69 L728.51 209.82 L728.8 182.5 L729.08 204.52 L729.36 193.37 L729.65 183.05 L729.93 184.04 L730.21 179.24 L730.49 209.92 L730.78 196.28 L731.06 177 L731.34 186.39 L731.63 181.65 L731.91 210.69 L732.19 181.68 L732.48 207.35 L732.76 185.79 L733.04 207.8 L733.33 190.92 L733.61 180.61 L733.89 194.21 L734.17 190.77 L734.46 173.23 L734.74 191.27 L735.02 152 L735.31 177.19 L735.59 170.28 L735.87 200.75 L736.16 174.71 L736.44 207.37 L736.72 183.45 L737.01 222 L737.29 191.36 L737.57 205.07 L737.86 190.45 L738.14 173 L738.42 208.15 L738.7 207.97 L738.99 186.32 L739.27 202.45 L739.55 203.09 L739.84 207.58 L740.12 168 L740.4 217 L740.69 177.8 L740.97 206.03 L741.25 192.69 L741.54 204.64 L741.82 184.95 L742.1 213 L742.38 201.71 L742.67 176.91 L742.95 170 L743.23 197.32 L743.52 184.04 L743.8 178.47 L744.08 185.16 L744.37 198.8 L744.65 188.66 L744.93 188.55 L745.22 177.54 L745.5 176.46 L745.78 181.2 L746.06 163 L746.35 208 L746.63 177.7 L746.91 200.23 L747.2 182.39 L747.48 197.55 L747.76 191.44 L748.05 178.29 L748.33 195.37 L748.61 203.35 L748.9 196.62 L749.18 200.42 L749.46 184.42 L749.75 187.09 L750.03 198.88 L750.31 192.8 L750.59 184.28 L750.88 174 L751.16 179.28 L751.44 185.83 L751.73 182.17 L752.01 177.61 L752.29 176.41 L752.58 199.5 L752.86 204.27 L753.14 204.29 L753.43 209.33 L753.71 200.67 L753.99 222.5 L754.27 205.17 L754.56 192.83 L754.84 185.16 L755.12 192.99 L755.41 177.96 L755.69 190.34 L755.97 168 L756.26 198.36 L756.54 187.33 L756.82 182.58 L757.11 183.66 L757.39 220.5 L757.67 198.32 L757.96 166 L758.24 209.36 L758.52 183.29 L758.8 182.51 L759.09 183.04 L759.37 192.62 L759.65 184.55 L759.94 198.45 L760.22 204.63 L760.5 208.52 L760.79 199.17 L761.07 211.5 L761.35 198.42 L761.64 201.83 L761.92 175 L762.2 201.63 L762.48 184.46 L762.77 200.35 L763.05 187.83 L763.33 183.44 L763.62 189.38 L763.9 164 L764.18 202.11 L764.47 185.37 L764.75 195.49 L765.03 184.41 L765.32 201.55 L765.6 189.76 L765.88 197.34 L766.17 184.81 L766.45 177.55 L766.73 185.96 L767.01 156 L767.3 179.21 L767.58 174.41 L767.86 188.13 L768.15 180.39 L768.43 183.63 L768.71 179.45 L769 195.76 L769.28 197.45 L769.56 174.71 L769.85 203.69 L770.13 205 L770.41 174.71 L770.69 197.78 L770.98 171 L771.26 182.99 L771.54 183.82 L771.83 187.02 L772.11 183.57 L772.39 199.73 L772.68 193.6 L772.96 189.74 L773.24 184.35 L773.53 193.05 L773.81 194.68 L774.09 199.85 L774.37 196.33 L774.66 183.68 L774.94 191.67 L775.22 198.35 L775.51 197.09 L775.79 185.84 L776.07 181.17 L776.36 186.25 L776.64 196.88 L776.92 179 L777.21 187.84 L777.49 185.5 L777.77 188.37 L778.06 193.38 L778.34 187.41 L778.62 199.87 L778.9 182.25 L779.19 189.41 L779.47 199.8 L779.75 184.69 L780.04 180.77 L780.32 196.96 L780.6 199.44 L780.89 201 L781.17 190.84 L781.45 196.73 L781.74 198.41 L782.02 181.07 L782.3 182.2 L782.58 198.56 L782.87 188.03 L783.15 184.97 L783.43 182.69 L783.72 180.57 L784 178 L784.28 198.3 L784.57 186.86 L784.85 197.14 L785.13 200.27 L785.42 193.3 L785.7 187.41 L785.98 200.06 L786.27 193.96 L786.55 188.06 L786.83 197.17 L787.11 186.24 L787.4 190.59 L787.68 195.98 L787.96 210.5 L788.25 192.2 L788.53 201.06 L788.81 174.88 L789.1 196.91 L789.38 158.7 L789.66 191.11 L789.95 172.7 L790.23 190.92 L790.51 159 L790.79 205.43 L791.08 217.5 L791.36 182.04 L791.64 180.53 L791.93 194.61 L792.21 201.02 L792.49 202.47 L792.78 210.69 L793.06 215.02 L793.34 213.62 L793.63 227.95 L793.91 210.22 L794.19 258 L794.47 216.07 L794.76 221.53 L795.04 146.5 L795.32 223.49 L795.61 173.57 L795.89 180.99 L796.17 181.53 L796.46 286.2 L796.74 159.34 L797.02 225.81 L797.31 193.17 L797.59 179.28 L797.87 96 L798.16 170.86 L798.44 147 L798.72 217.05 L799 196.04 L799.29 148.69 L799.57 199.37 L799.85 108.3 L800.14 179.29 L800.42 242.08 L800.7 197.48 L800.99 309.5 L801.27 164.82 L801.55 197.54 L801.84 190.66 L802.12 156.72 L802.4 211.96 L802.68 173.04 L802.97 170.65 L803.25 192.55 L803.53 250.6 L803.82 188.48 L804.1 127 L804.38 167.3 L804.67 153.93 L804.95 165.33 L805.23 173.51 L805.52 169.52 L805.8 218.34 L806.08 123 L806.37 262.6 L806.65 165.08 L806.93 216.4 L807.21 173.27 L807.5 210.4 L807.78 225.62 L808.06 202.5 L808.35 228.68 L808.63 208.05 L808.91 268.5 L809.2 179.96 L809.48 225.01 L809.76 197.92 L810.05 121.3 L810.33 156.72 L810.61 166.91 L810.89 168.11 L811.18 166.47 L811.46 196.87 L811.74 245 L812.03 156.46 L812.31 213.97 L812.59 228.68 L812.88 204.99 L813.16 89.3 L813.44 228.68 L813.73 241.57 L814.01 216.65 L814.29 275.7 L814.58 224.24 L814.86 221.61 L815.14 187.09 L815.42 178.44 L815.71 176.92 L815.99 158.91 L816.27 166.52 L816.56 222.2 L816.84 204.06 L817.12 216.54 L817.41 148 L817.69 194.53 L817.97 174.43 L818.26 181.67 L818.54 228.38 L818.82 220.53 L819.1 236 L819.39 197.18 L819.67 199.7 L819.95 194.12 L820.24 209.78 L820.52 165.14 L820.8 184.73 L821.09 142.4 L821.37 207.81 L821.65 196.62 L821.94 228.68 L822.22 214.76 L822.5 191.86 L822.78 226.52 L823.07 210.49 L823.35 162.64 L823.63 223.67 L823.92 128 L824.2 240.8 L824.48 168.57 L824.77 218.19 L825.05 193.52 L825.33 211.84 L825.62 195.94 L825.9 194.17 L826.18 176.19 L826.47 186.08 L826.75 208.95 L827.03 223.15 L827.31 206.83 L827.6 209.35 L827.88 232 L828.16 181.25 L828.45 203.74 L828.73 163.5 L829.01 204.76 L829.3 201.99 L829.58 171.23 L829.86 181.21 L830.15 178.66 L830.43 182.48 L830.71 227.8 L830.99 171.34 L831.28 203.97 L831.56 156 L831.84 185.02 L832.13 171.71 L832.41 188.59 L832.69 176.39 L832.98 182.93 L833.26 180.63 L833.54 186.2 L833.83 194.69 L834.11 230.8 L834.39 206.44 L834.68 177.65 L834.96 205.66 L835.24 201.19 L835.52 171.71 L835.81 195.55 L836.09 151.4 L836.37 177.88 L836.66 180.22 L836.94 202.99 L837.22 179.17 L837.51 205 L837.79 159 L838.07 223.4 L838.36 171.71 L838.64 171.71 L838.92 183.17 L839.2 200.81 L839.49 198.16 L839.77 174.68 L840.05 201.68 L840.34 184.11 L840.62 198.81 L840.9 204.1 L841.19 183.54 L841.47 225.4 L841.75 192.83 L842.04 203.05 L842.32 207.32 L842.6 203.32 L842.88 188.74 L843.17 173.3 L843.45 241.7 L843.73 199.32 L844.02 73.8 L844.3 174.86 L844.58 136.42 L844.87 169.13 L845.15 148.83 L845.43 145.7 L845.72 171.71 L846 175.3 L846.28 208.18 L846.57 211.88 L846.85 213.35 L847.13 156 L847.41 205.82 L847.7 193.47 L847.98 234.3 L848.26 194.24 L848.55 216.77 L848.83 192.39 L849.11 211.02 L849.4 193.61 L849.68 188.77 L849.96 183.34 L850.25 195.65 L850.53 204.21 L850.81 203.6 L851.09 163.5 L851.38 172.75 L851.66 177.77 L851.94 224.6 L852.23 185.25 L852.51 209.9 L852.79 204.64 L853.08 202.82 L853.36 188.94 L853.64 186.13 L853.93 163.99 L854.21 171.71 L854.49 166.24 L854.78 192.53 L855.06 120 L855.34 213.69 L855.62 199.34 L855.91 190.54 L856.19 176.8 L856.47 187.5 L856.76 195.74 L857.04 188.04 L857.32 192.03 L857.61 182.87 L857.89 213.69 L858.17 203.98 L858.46 207.51 L858.74 171.95 L859.02 206.01 L859.3 152 L859.59 240 L859.87 184.61 L860.15 183.2 L860.44 177.73 L860.72 203.04 L861 194.03 L861.29 210.65 L861.57 193.08 L861.85 186.91 L862.14 199.45 L862.42 193.97 L862.7 183.15 L862.99 203.89 L863.27 184.55 L863.55 171.71 L863.83 199.77 L864.12 156 L864.4 194.62 L864.68 173.08 L864.97 200.84 L865.25 177.75 L865.53 202.21 L865.82 152 L866.1 221.3 L866.38 170.39 L866.67 174.34 L866.95 181.24 L867.23 213.69 L867.51 183.22 L867.8 194.37 L868.08 186.99 L868.36 188.03 L868.65 211.8 L868.93 208.7 L869.21 173.68 L869.5 217.17 L869.78 205.73 L870.06 240 L870.35 170.79 L870.63 217.17 L870.91 153 L871.19 204.91 L871.48 171.34 L871.76 171.71 L872.04 199.32 L872.33 176.13 L872.61 185.97 L872.89 156 L873.18 205.63 L873.46 207.61 L873.74 199.32 L874.03 184.9 L874.31 209.35 L874.59 195.28 L874.88 219.7 L875.16 186.84 L875.44 208.1 L875.72 179.5 L876.01 199.51 L876.29 165 L876.57 178.49 L876.86 181.06 L877.14 181.92 L877.42 182.35 L877.71 191.78 L877.99 183.15 L878.27 182.99 L878.56 197.57 L878.84 193.64 L879.12 190.2 L879.4 211.79 L879.69 192.5 L879.97 201.31 L880.25 189.22 L880.54 203.29 L880.82 208.44 L881.1 192.34 L881.39 188.06 L881.67 197.84 L881.95 184.37 L882.24 195.26 L882.52 177 L882.8 217.3 L883.09 207.39 L883.37 199.05 L883.65 185.77 L883.93 184.75 L884.22 180.04 L884.5 189.81 L884.78 168 L885.07 189.87 L885.35 220.5 L885.63 199.13 L885.92 176.96 L886.2 198.73 L886.48 200.01 L886.77 191.08 L887.05 183.1 L887.33 204.29 L887.61 208.44 L887.9 187.02 L888.18 185.25 L888.46 186.86 L888.75 176.96 L889.03 190.78 L889.31 190.32 L889.6 183.99 L889.88 189.24 L890.16 177.11 L890.45 204.3 L890.73 174 L891.01 208.44 L891.29 185.09 L891.58 196.19 L891.86 184.04 L892.14 176.96 L892.43 181.11 L892.71 199.66 L892.99 170 L893.28 214.8 L893.56 184.08 L893.84 203.37 L894.13 192.35 L894.41 197.79 L894.69 194.32 L894.98 184.13 L895.26 197.91 L895.54 194.03 L895.82 186.47 L896.11 194.12 L896.39 210 L896.67 172.5 L896.96 172 L897.24 201.67 L897.52 182.59 L897.81 189.47 L898.09 207.36 L898.37 177.62 L898.66 189.58 L898.94 184.35 L899.22 190.85 L899.5 194.1 L899.79 207.2 L900.07 182.87 L900.35 178.54 L900.64 195.6 L900.92 169 L901.2 213.4 L901.49 184.43 L901.77 201.16 L902.05 187.75 L902.34 210.69 L902.62 196.98 L902.9 185.86 L903.19 179.17 L903.47 204.51 L903.75 193.93 L904.03 215.13 L904.32 196 L904.6 237.5 L904.88 175.72 L905.17 212.64 L905.45 180.29 L905.73 152 L906.02 190.6 L906.3 193.48 L906.58 191.54 L906.87 177.95 L907.15 174.71 L907.43 168 L907.71 198.52 L908 187.67 L908.28 203.38 L908.56 187.67 L908.85 186.91 L909.13 195.51 L909.41 187.33 L909.7 208.38 L909.98 185.01 L910.26 208.33 L910.55 199.75 L910.83 198.33 L911.11 196.76 L911.4 184.01 L911.68 183.01 L911.96 196.72 L912.24 179.83 L912.53 176.7 L912.81 154 L913.09 189 L913.38 171.55 L913.66 189.99 L913.94 205.69 L914.23 219 L914.51 174.71 L914.79 210.69 L915.08 150 L915.36 200.31 L915.64 168.25 L915.92 185.93 L916.21 195.45 L916.49 203.36 L916.77 191.66 L917.06 182.24 L917.34 203.73 L917.62 207.78 L917.91 187.49 L918.19 238.2 L918.47 178.73 L918.76 197.12 L919.04 167 L919.32 207.59 L919.6 179.34 L919.89 196.69 L920.17 193.21 L920.45 199.43 L920.74 192.58 L921.02 185.11 L921.3 180.71 L921.59 175.45 L921.87 200.63 L922.15 196.95 L922.44 232 L922.72 174.71 L923 200.03 L923.29 193.04 L923.57 204.22 L923.85 206.45 L924.13 188.01 L924.42 192.97 L924.7 210.69 L924.98 189.75 L925.27 180.61 L925.55 210.69 L925.83 184.53 L926.12 171 L926.4 187.9 L926.68 182.38 L926.97 179.51 L927.25 194.96 L927.53 183.86 L927.81 196.85 L928.1 185.33 L928.38 200.94 L928.66 193.8 L928.95 175.19 L929.23 181.43 L929.51 199.64 L929.8 204.28 L930.08 200.69 L930.36 158 L930.65 224.4 L930.93 181.84 L931.21 209.35 L931.5 185.27 L931.78 179.02 L932.06 196.65 L932.34 198.26 L932.63 183.71 L932.91 192.06 L933.19 195.52 L933.48 198.53 L933.76 195.3 L934.04 186.39 L934.33 189.12 L934.61 204.94 L934.89 188.39 L935.18 190.89 L935.46 202.82 L935.74 181.54 L936.02 195.54 L936.31 170 L936.59 184.65 L936.87 230.3 L937.16 199.67 L937.44 187.05 L937.72 201.56 L938.01 174.71 L938.29 182.65 L938.57 180.61 L938.86 182.33 L939.14 184.49 L939.42 162 L939.71 210.69 L939.99 182.53 L940.27 187.64 L940.55 183.76 L940.84 199.46 L941.12 179.97 L941.4 191.9 L941.69 209.34 L941.97 184.06 L942.25 210.12 L942.54 181.06 L942.82 198.55 L943.1 200.14 L943.39 179.94 L943.67 214 L943.95 206.78 L944.23 209.86 L944.52 176 L944.8 200.51 L945.08 200.95 L945.37 184 L945.65 187.67 L945.93 186.15 L946.22 210.69 L946.5 195.76 L946.78 183.59 L947.07 185.28 L947.35 181.9 L947.63 210.69 L947.91 219 L948.2 187.72 L948.48 156 L948.76 202.35 L949.05 174.28 L949.33 192.34 L949.61 180.59 L949.9 197.19 L950.18 181.09 L950.46 200.67 L950.75 190 L951.03 185.82 L951.31 191.1 L951.6 184.83 L951.88 208.86 L952.16 168 L952.44 189.63 L952.73 178.55 L953.01 190.67 L953.29 182.68 L953.58 202.59 L953.86 178.55 L954.14 187.24 L954.43 187.38 L954.71 202.07 L954.99 128 L955.28 217.5 L955.56 189.38 L955.84 192.57 L956.12 170.16 L956.41 190.03 L956.69 197.01 L956.97 203.07 L957.26 200.19 L957.54 198.74 L957.82 198.9 L958.11 204.42 L958.39 186.26 L958.67 205.95 L958.96 186.02 L959.24 166 L959.52 189.13 L959.81 217.5 L960.09 190.64 L960.37 200.09 L960.65 192.21 L960.94 202.4 L961.22 200.43 L961.5 198.85 L961.79 191.05 L962.07 197.45 L962.35 191.89 L962.64 185.27 L962.92 184.94 L963.2 183.54 L963.49 186.74 L963.77 165 L964.05 205 L964.33 178.81 L964.62 199.03 L964.9 182.07 L965.18 199.48 L965.47 176.9 L965.75 192.94 L966.03 166 L966.32 192.94 L966.6 178.63 L966.88 194.36 L967.17 174.71 L967.45 200.64 L967.73 194.79 L968.01 199.51 L968.3 182.78 L968.58 174.71 L968.86 199.08 L969.15 191.41 L969.43 187.45 L969.71 195.76 L970 201.98 L970.28 199.72 L970.56 217.5 L970.85 188.94 L971.13 206.19 L971.41 198.65 L971.7 199.99 L971.98 197.61 L972.26 190.44 L972.54 197.86 L972.83 210.69 L973.11 193.02 L973.39 190.65 L973.68 185.07 L973.96 201.56 L974.24 193.03 L974.53 186.46 L974.81 191.23 L975.09 180.13 L975.38 174.71 L975.66 201.89 L975.94 168 L976.22 184.03 L976.51 177.22 L976.79 183.37 L977.07 184.46 L977.36 198.96 L977.64 202.16 L977.92 183.71 L978.21 219.6 L978.49 210.69 L978.77 207.67 L979.06 174.71 L979.34 174.71 L979.62 179.85 L979.91 200.08 L980.19 173.19 L980.47 200.28 L980.75 157 L981.04 193.49 L981.32 172.87 L981.6 179.46 L981.89 181.13 L982.17 190.46 L982.45 192.83 L982.74 195.88 L983.02 189.41 L983.3 199.71 L983.59 210.69 L983.87 210.69 L984.15 205.52 L984.43 171.9 L984.72 192.93 L985 139 L985.28 226.5 L985.57 175.72 L985.85 211.17 L986.13 181.88 L986.42 210.69 L986.7 194.41 L986.98 187.79 L987.27 187.34 L987.55 193.93 L987.83 194.46 L988.12 183.23 L988.4 185.05 L988.68 185.23 L988.96 186.81 L989.25 190.54 L989.53 161 L989.81 198.49 L990.1 175.3 L990.38 200.88 L990.66 200.77 L990.95 176.96 L991.23 174.9 L991.51 192.47 L991.8 186.95 L992.08 180.81 L992.36 166 L992.64 180.5 L992.93 205.48 L993.21 199.17 L993.49 185.48 L993.78 178.18 L994.06 226.5 L994.34 201.39 L994.63 211.96 L994.91 199.38 L995.19 205.2 L995.48 177.51 L995.76 199.03 L996.04 185.4 L996.32 174.71 L996.61 180.71 L996.89 189.3 L997.17 172 L997.46 188.55 L997.74 224.4 L998.02 186.4 L998.31 205.69 L998.59 191.71 L998.87 201.28 L999.16 194.73 L999.44 188.38 L999.72 179.54 L1000.01 207.18 L1000.29 193.33 L1000.57 212.67 L1000.85 170 L1001.14 233.4 L1001.42 181.76 L1001.7 216.02 L1001.99 186.33 L1002.27 189.4 L1002.55 208.4 L1002.84 174.71 L1003.12 191.92 L1003.4 193.04 L1003.69 204.02 L1003.97 193.28 L1004.25 203.79 L1004.53 191.98 L1004.82 186.2 L1005.1 192.38 L1005.38 183.72 L1005.67 201.32 L1005.95 173 L1006.23 199.31 L1006.52 210.69 L1006.8 194.6 L1007.08 200.43 L1007.37 202.92 L1007.65 196.29 L1007.93 189.75 L1008.22 204.66 L1008.5 194.09 L1008.78 178.26 L1009.06 185.79 L1009.35 194.24 L1009.63 191.41 L1009.91 193.91 L1010.2 142 L1010.48 292.7 L1010.76 193.64 L1011.05 250.29 L1011.33 192.92 L1011.61 201.7 L1011.9 186.11 L1012.18 198.88 L1012.46 191.2 L1012.74 174.71 L1013.03 203.29 L1013.31 170 L1013.59 206.98 L1013.88 210.69 L1014.16 210.69 L1014.44 205.53 L1014.73 227.9 L1015.01 171 L1015.29 207.7 L1015.58 227.5 L1015.86 204.36 L1016.14 208.77 L1016.42 189.36 L1016.71 178.98 L1016.99 174.71 L1017.27 182.25 L1017.56 191.25 L1017.84 190.84 L1018.12 174.71 L1018.41 178.25 L1018.69 195.84 L1018.97 188.07 L1019.26 189.8 L1019.54 192.17 L1019.82 197.76 L1020.11 244.4 L1020.39 198.1 L1020.67 208.32 L1020.95 180.32 L1021.24 212.74 L1021.52 204.9 L1021.8 166.54 L1022.09 204.57 L1022.37 163.4 L1022.65 211.38 L1022.94 125 L1023.22 226 L1023.5 165.8 L1023.79 209.21 L1024.07 188.42 L1024.35 202.39 L1024.63 190.97 L1024.92 182.04 L1025.2 207.82 L1025.48 205.27 L1025.77 206.81 L1026.05 198.34 L1026.33 198.83 L1026.62 188.98 L1026.9 151 L1027.18 192.38 L1027.47 199.55 L1027.75 198.27 L1028.03 183.06 L1028.32 184.97 L1028.6 191.68 L1028.88 218 L1029.16 176.99 L1029.45 198.71 L1029.73 186.14 L1030.01 181.03 L1030.3 195.39 L1030.58 184.35 L1030.86 203.99 L1031.15 182.45 L1031.43 190.68 L1031.71 208.75 L1032 185.93 L1032.28 201.73 L1032.56 179.73 L1032.84 199.57 L1033.13 194.37 L1033.41 189.84 L1033.69 196.06 L1033.98 190.07 L1034.26 198.3 L1034.54 181.46 L1034.83 192.64 L1035.11 156 L1035.39 210.69 L1035.68 178.94 L1035.96 192.38 L1036.24 210.69 L1036.53 191.73 L1036.81 246.5 L1037.09 181.87 L1037.37 209.26 L1037.66 177.05 L1037.94 157.5 L1038.22 174.71 L1038.51 174 L1038.79 185.82 L1039.07 196.41 L1039.36 203.99 L1039.64 181.6 L1039.92 183.53 L1040.21 177.13 L1040.49 184.03 L1040.77 200.74 L1041.05 209.52 L1041.34 202.48 L1041.62 199.53 L1041.9 215 L1042.19 186.81 L1042.47 204.35 L1042.75 195.43 L1043.04 171 L1043.32 194.17 L1043.6 185.51 L1043.89 185.09 L1044.17 182.99 L1044.45 199.64 L1044.73 207.95 L1045.02 178.26 L1045.3 191.54 L1045.58 181.51 L1045.87 209.33 L1046.15 196.04 L1046.43 192.43 L1046.72 207.29 L1047 197.92 L1047.28 185.37 L1047.57 181.79 L1047.85 176.57 L1048.13 201.44 L1048.42 206.88 L1048.7 187.43 L1048.98 183.18 L1049.26 190.75 L1049.55 205.87 L1049.83 175.39 L1050.11 184.68 L1050.4 155 L1050.68 197.63 L1050.96 189.62 L1051.25 200.94 L1051.53 181.1 L1051.81 210.69 L1052.1 189.38 L1052.38 214.4 L1052.66 192.56 L1052.94 183.7 L1053.23 198.64 L1053.51 193.53 L1053.79 169.55 L1054.08 186.92 L1054.36 156.87 L1054.64 195.24 L1054.93 132 L1055.21 177.23 L1055.49 157.85 L1055.78 186.76 L1056.06 174.78 L1056.34 194.53 L1056.63 193.83 L1056.91 174.38 L1057.19 187.92 L1057.47 179.09 L1057.76 187.31 L1058.04 129 L1058.32 198.81 L1058.61 168.62 L1058.89 207.12 L1059.17 182.09 L1059.46 209.4 L1059.74 203.88 L1060.02 200.3 L1060.31 201.04 L1060.59 184.05 L1060.87 181.99 L1061.15 206.44 L1061.44 183.33 L1061.72 183.71 L1062 198.56 L1062.29 207.74 L1062.57 200.24 L1062.85 181.46 L1063.14 189.23 L1063.42 196.32 L1063.7 207.08 L1063.99 148 L1064.27 204.24 L1064.55 170.03 L1064.83 204.91 L1065.12 199.71 L1065.4 201.34 L1065.68 198.19 L1065.97 179.57 L1066.25 184.08 L1066.53 200.55 L1066.82 189.47 L1067.1 208.95 L1067.38 197.97 L1067.67 221.5 L1067.95 202.59 L1068.23 205.52 L1068.52 200.2 L1068.8 199.88 L1069.08 203.27 L1069.36 210.69 L1069.65 186.68 L1069.93 179.23 L1070.21 190.93 L1070.5 202.58 L1070.78 210.69 L1071.06 202.5 L1071.35 180.39 L1071.63 203.09 L1071.91 169 L1072.2 223.5 L1072.48 180.68 L1072.76 197.17 L1073.04 182.05 L1073.33 184.85 L1073.61 208.25 L1073.89 196.8 L1074.18 207.11 L1074.46 193.81 L1074.74 185.16 L1075.03 203.51 L1075.31 210.69 L1075.59 179.56 L1075.88 165 L1076.16 232.5 L1076.44 206.09 L1076.73 213.21 L1077.01 174.71 L1077.29 174.71 L1077.57 194.83 L1077.86 189.98 L1078.14 194.26 L1078.42 182.6 L1078.71 182.2 L1078.99 191.82 L1079.27 206.45 L1079.56 185.2 L1079.84 197.45 L1080.12 186.34 L1080.41 190.04 L1080.69 176.27 L1080.97 181.19 L1081.25 197.26 L1081.54 189.17 L1081.82 216 L1082.1 198.14 L1082.39 176.33 L1082.67 180.65 L1082.95 165 L1083.24 187.45 L1083.52 206.06 L1083.8 205.46 L1084.09 185.65 L1084.37 188.78 L1084.65 174.71 L1084.94 201.42 L1085.22 181.19 L1085.5 184.9 L1085.78 209.61 L1086.07 200.98 L1086.35 191.02 L1086.63 197.69 L1086.92 222.5 L1087.2 187.94 L1087.48 209.54 L1087.77 187.98 L1088.05 200.93 L1088.33 179.3 L1088.62 187.27 L1088.9 161 L1089.18 189.79 L1089.46 182.24 L1089.75 192.43 L1090.03 183.54 L1090.31 185.26 L1090.6 196.4 L1090.88 181.74 L1091.16 205.68 L1091.45 186.44 L1091.73 197.88 L1092.01 200.78 L1092.3 182.46 L1092.58 201.3 L1092.86 181.56 L1093.14 186.04 L1093.43 178 L1093.71 202.58 L1093.99 180.57 L1094.28 177.96 L1094.56 197.28 L1094.84 194.01 L1095.13 183.12 L1095.41 190.9 L1095.69 207.5 L1095.98 199.07 L1096.26 188.19 L1096.54 189.36 L1096.83 186.5 L1097.11 179.32 L1097.39 183.52 L1097.67 187.91 L1097.96 176 L1098.24 202.86 L1098.52 182.19 L1098.81 183.64 L1099.09 199.61 L1099.37 203.81 L1099.66 203.21 L1099.94 205.93 L1100.22 188.12 L1100.51 202.83 L1100.79 187.65 L1101.07 178 L1101.35 204.89 L1101.64 195.9 L1101.92 179.71 L1102.2 184.82 L1102.49 158.8 L1102.77 195.39 L1103.05 209.4 L1103.34 187.18 L1103.62 201.06 L1103.9 192.55 L1104.19 199.24 L1104.47 191.54 L1104.75 177.35 L1105.04 192.06 L1105.32 173.41 L1105.6 197.66 L1105.88 154 L1106.17 191.9 L1106.45 173.44 L1106.73 190.1 L1107.02 202.54 L1107.3 202.14 L1107.58 200.15 L1107.87 185.24 L1108.15 188.82 L1108.43 218.37 L1108.72 202.08 L1109 237.5 L1109.28 179.04 L1109.56 216.83 L1109.85 202.33 L1110.13 210.69 L1110.41 206.56 L1110.7 167.5 L1110.98 204.33 L1111.26 180.21 L1111.55 190.57 L1111.83 187.59 L1112.11 195.52 L1112.4 206.59 L1112.68 203.33 L1112.96 174.77 L1113.24 200.35 L1113.53 158 L1113.81 209.84 L1114.09 172.26 L1114.38 190.06 L1114.66 180.29 L1114.94 204.06 L1115.23 186.68 L1115.51 188.79 L1115.79 200.16 L1116.08 187.87 L1116.36 201.79 L1116.64 200.75 L1116.93 180.36 L1117.21 210.69 L1117.49 169.8 L1117.77 202.82 L1118.06 207.5 L1118.34 197 L1118.62 184.98 L1118.91 199.55 L1119.19 179.89 L1119.47 215 L1119.76 205.98 L1120.04 177 L1120.32 188.66 L1120.61 183.14 L1120.89 201.07 L1121.17 184.56 L1121.45 190.07 L1121.74 182.34 L1122.02 192.44 L1122.3 180.49 L1122.59 199.27 L1122.87 165 L1123.15 207.65 L1123.44 180.96 L1123.72 200.17 L1124 203.26 L1124.29 202.21 L1124.57 206.21 L1124.85 205.56 L1125.14 216 L1125.42 199.05 L1125.7 198.28 L1125.98 202.41 L1126.27 198.03 L1126.55 197.36 L1126.83 174.47 L1127.12 205.13 L1127.4 189.26 L1127.68 214.48 L1127.97 111 L1128.25 249.6 L1128.53 151.92 L1128.82 220.05 L1129.1 175.88 L1129.38 209.92 L1129.66 196.1 L1129.95 182.67 L1130.23 197.18 L1130.51 182.94 L1130.8 207.53 L1131.08 210.69 L1131.36 180.36 L1131.65 188.29 L1131.93 187.77 L1132.21 191.45 L1132.5 187.44 L1132.78 205 L1133.06 177 L1133.35 198.08 L1133.63 182.73 L1133.91 191.81 L1134.19 210.69 L1134.48 205.72 L1134.76 181.29 L1135.04 194.08 L1135.33 196.7 L1135.61 190.25 L1135.89 229.4 L1136.18 198.21 L1136.46 207.46 L1136.74 191.24 L1137.03 179.79 L1137.31 192.24 L1137.59 183.32 L1137.87 184.98 L1138.16 181.44 L1138.44 181.96 L1138.72 191.38 L1139.01 191.31 L1139.29 194.14 L1139.57 200.1 L1139.86 186.98 L1140.14 199.18 L1140.42 180.93 L1140.71 187.29 L1140.99 166 L1141.27 210.69 L1141.55 184.15 L1141.84 196.91 L1142.12 203.69 L1142.4 214.35 L1142.69 210.69 L1142.97 230.6 L1143.25 193.36 L1143.54 174.71 L1143.82 193.01 L1144.1 204.72 L1144.39 178.09 L1144.67 191.34 L1144.95 201.93 L1145.24 196.46 L1145.52 198.82 L1145.8 177.53 L1146.08 217.8 L1146.37 175.34 L1146.65 196.24 L1146.93 171 L1147.22 201.61 L1147.5 181.35" fill="none" stroke="#0000FF" stroke-width="2" stroke-linejoin="miter" stroke-linecap="butt" shape-rendering="crispEdges"/>
<path d="M683.5 199.8 L683.78 189.82 L684.07 187.11 L684.35 185.51 L684.63 197.49 L684.92 187.15 L685.2 196.34 L685.48 196.56 L685.76 199.44 L686.05 186.81 L686.33 184.3 L686.61 195.73 L686.9 196.57 L687.18 194.43 L687.46 182.58 L687.75 187.58 L688.03 195.47 L688.31 201.84 L688.6 196.13 L688.88 186.65 L689.16 183.18 L689.45 194.06 L689.73 196.22 L690.01 195.3 L690.29 202.31 L690.58 188.07 L690.86 198.23 L691.14 187.28 L691.43 201.4 L691.71 199.17 L691.99 191.23 L692.28 196.59 L692.56 188.72 L692.84 192.66 L693.13 198.69 L693.41 189.53 L693.69 188.41 L693.97 202.45 L694.26 183.39 L694.54 190.17 L694.82 188.83 L695.11 202.18 L695.39 217.5 L695.67 194.48 L695.96 187.21 L696.24 200.14 L696.52 197.2 L696.81 202.82 L697.09 194.69 L697.37 189.85 L697.65 206.19 L697.94 176 L698.22 188.49 L698.5 216.5 L698.79 187.23 L699.07 195.2 L699.35 202.41 L699.64 200.42 L699.92 198.18 L700.2 191.49 L700.49 193.11 L700.77 179.21 L701.05 190.33 L701.34 201.54 L701.62 179.97 L701.9 184.88 L702.18 191.87 L702.47 198.65 L702.75 206.19 L703.03 201.13 L703.32 185.18 L703.6 199.32 L703.88 203.58 L704.17 191.09 L704.45 190.69 L704.73 187.7 L705.02 187.3 L705.3 181.08 L705.58 199.62 L705.86 184.63 L706.15 200.84 L706.43 218 L706.71 191.22 L707 190.69 L707.28 184.72 L707.56 192.84 L707.85 183.53 L708.13 185.48 L708.41 191.58 L708.7 197.37 L708.98 198.91 L709.26 197.05 L709.55 194.37 L709.83 192.9 L710.11 179.21 L710.39 156 L710.68 186.36 L710.96 199.8 L711.24 198.56 L711.53 195.33 L711.81 191.12 L712.09 167 L712.38 214 L712.66 197.34 L712.94 183.81 L713.23 206.19 L713.51 192.76 L713.79 190.41 L714.07 191.12 L714.36 187.74 L714.64 190.39 L714.92 191.36 L715.21 206.19 L715.49 198.58 L715.77 206.19 L716.06 189.5 L716.34 191.13 L716.62 193.7 L716.91 196.89 L717.19 195.66 L717.47 183.29 L717.76 183.88 L718.04 193 L718.32 186.14 L718.6 200.79 L718.89 202.56 L719.17 195.16 L719.45 197.16 L719.74 195.55 L720.02 191.74 L720.3 182.58 L720.59 196.07 L720.87 192.45 L721.15 191.29 L721.44 192.87 L721.72 187.96 L722 183.65 L722.28 199.04 L722.57 191.88 L722.85 194.05 L723.13 190.88 L723.42 200.51 L723.7 201.66 L723.98 202.82 L724.27 190.02 L724.55 191.72 L724.83 192.32 L725.12 202.82 L725.4 194.6 L725.68 196.55 L725.96 199.91 L726.25 197.37 L726.53 189.14 L726.81 189.93 L727.1 192.82 L727.38 190.08 L727.66 195.78 L727.95 192.34 L728.23 192.49 L728.51 189.87 L728.8 193.06 L729.08 193.43 L729.36 193.39 L729.65 195.99 L729.93 182.58 L730.21 190.08 L730.49 190.51 L730.78 182.58 L731.06 185.55 L731.34 200.63 L731.63 189.16 L731.91 188.43 L732.19 183.09 L732.48 185.99 L732.76 188.77 L733.04 198.7 L733.33 197.14 L733.61 191.33 L733.89 190.13 L734.17 197.91 L734.46 194.66 L734.74 194.74 L735.02 192.39 L735.31 190.99 L735.59 194.16 L735.87 199 L736.16 186.37 L736.44 184.57 L736.72 193.24 L737.01 210 L737.29 190.44 L737.57 189.34 L737.86 190.25 L738.14 196.59 L738.42 189.77 L738.7 187.55 L738.99 197.27 L739.27 182.68 L739.55 182.58 L739.84 183.41 L740.12 182.58 L740.4 188.92 L740.69 194.42 L740.97 195.76 L741.25 196.84 L741.54 192.11 L741.82 192.87 L742.1 189.28 L742.38 176 L742.67 182.58 L742.95 182.58 L743.23 192.84 L743.52 189.25 L743.8 190.28 L744.08 191.31 L744.37 193.76 L744.65 193.33 L744.93 196.9 L745.22 191.79 L745.5 192.82 L745.78 191.07 L746.06 197.06 L746.35 192.5 L746.63 192.46 L746.91 189.62 L747.2 198.12 L747.48 190.56 L747.76 187.69 L748.05 189.66 L748.33 194.58 L748.61 195.2 L748.9 193.9 L749.18 188.98 L749.46 184.79 L749.75 193.51 L750.03 195.98 L750.31 190.78 L750.59 191.66 L750.88 197.33 L751.16 196.46 L751.44 193.22 L751.73 189.28 L752.01 198.78 L752.29 197.89 L752.58 190.16 L752.86 198.94 L753.14 192.15 L753.43 190.9 L753.71 193.27 L753.99 178 L754.27 193 L754.56 216 L754.84 190.99 L755.12 196.98 L755.41 187.14 L755.69 201.24 L755.97 193.6 L756.26 192.66 L756.54 187.8 L756.82 195.8 L757.11 214.5 L757.39 195.59 L757.67 188.94 L757.96 183.85 L758.24 194.74 L758.52 190.44 L758.8 197.43 L759.09 187.74 L759.37 186.53 L759.65 192.52 L759.94 198.48 L760.22 190.65 L760.5 186.84 L760.79 187.15 L761.07 188.56 L761.35 202.03 L761.64 196.16 L761.92 185.45 L762.2 198.95 L762.48 186.93 L762.77 183.11 L763.05 188.82 L763.33 186.99 L763.62 194.4 L763.9 198.95 L764.18 193.22 L764.47 193.71 L764.75 192.94 L765.03 189.15 L765.32 193.44 L765.6 206.5 L765.88 190.54 L766.17 192.73 L766.45 183.3 L766.73 190.45 L767.01 192.27 L767.3 193.76 L767.58 195.89 L767.86 185.85 L768.15 191.94 L768.43 198.2 L768.71 195.57 L769 193.4 L769.28 194.97 L769.56 187.17 L769.85 198.62 L770.13 190.19 L770.41 191.97 L770.69 198.7 L770.98 192.46 L771.26 193.18 L771.54 190.14 L771.83 194.99 L772.11 191.15 L772.39 201.19 L772.68 198.22 L772.96 188.7 L773.24 187.39 L773.53 192.77 L773.81 195.75 L774.09 187.18 L774.37 202.82 L774.66 196.78 L774.94 189.27 L775.22 189.37 L775.51 197.96 L775.79 202.32 L776.07 185.3 L776.36 191.92 L776.64 197.27 L776.92 192.42 L777.21 188.1 L777.49 202.82 L777.77 187.04 L778.06 188.93 L778.34 202.82 L778.62 188.77 L778.9 201.77 L779.19 186.89 L779.47 190.67 L779.75 182.58 L780.04 195.81 L780.32 192.68 L780.6 187.36 L780.89 195.96 L781.17 196.29 L781.45 194.6 L781.74 193.07 L782.02 198.22 L782.3 190.23 L782.58 189.93 L782.87 192.34 L783.15 184.04 L783.43 194.37 L783.72 186.04 L784 195.49 L784.28 188.85 L784.57 202.56 L784.85 191.69 L785.13 193.59 L785.42 195.22 L785.7 195.81 L785.98 194.47 L786.27 196.37 L786.55 202.82 L786.83 195.74 L787.11 195.5 L787.4 195.37 L787.68 198.09 L787.96 193.39 L788.25 188.7 L788.53 193.98 L788.81 195.21 L789.1 185.78 L789.38 187.72 L789.66 188 L789.95 186.81 L790.23 194.37 L790.51 193.36 L790.79 187.03 L791.08 195.52 L791.36 193.31 L791.64 190.77 L791.93 190.8 L792.21 194.11 L792.49 187.69 L792.78 193.61 L793.06 173.13 L793.34 163.81 L793.63 174.91 L793.91 172.91 L794.19 223.99 L794.47 178 L794.76 226 L795.04 179.88 L795.32 228.6 L795.61 225.68 L795.89 184.43 L796.17 215.75 L796.46 212.46 L796.74 200.16 L797.02 174.04 L797.31 288.5 L797.59 160.87 L797.87 125.3 L798.16 168.71 L798.44 167.61 L798.72 190.82 L799 179.82 L799.29 207.9 L799.57 227 L799.85 125 L800.14 210.04 L800.42 151.48 L800.7 205.79 L800.99 151.48 L801.27 187.25 L801.55 184.28 L801.84 172.64 L802.12 141 L802.4 167.97 L802.68 182.54 L802.97 215.6 L803.25 176.48 L803.53 177.79 L803.82 180.49 L804.1 151.48 L804.38 203.88 L804.67 178.89 L804.95 170 L805.23 216.99 L805.52 160.33 L805.8 231.84 L806.08 227.78 L806.37 178.6 L806.65 222.08 L806.93 195.84 L807.21 233.92 L807.5 190.83 L807.78 223.28 L808.06 188.6 L808.35 211.08 L808.63 187.32 L808.91 195.9 L809.2 191.93 L809.48 193.51 L809.76 191.13 L810.05 208.55 L810.33 213.69 L810.61 192.29 L810.89 169 L811.18 198.15 L811.46 187.58 L811.74 213.69 L812.03 201.85 L812.31 200.02 L812.59 205.38 L812.88 188.78 L813.16 194.38 L813.44 202.54 L813.73 204.51 L814.01 183.02 L814.29 200.61 L814.58 238.4 L814.86 187.31 L815.14 213.69 L815.42 205.69 L815.71 192.66 L815.99 188.6 L816.27 183.35 L816.56 183.08 L816.84 180.3 L817.12 197.18 L817.41 195.22 L817.69 183.4 L817.97 197.8 L818.26 180.03 L818.54 211.76 L818.82 184.86 L819.1 194.78 L819.39 213.69 L819.67 180.95 L819.95 188.97 L820.24 192.45 L820.52 205.61 L820.8 198.28 L821.09 174.57 L821.37 202.62 L821.65 213.69 L821.94 202.97 L822.22 207.09 L822.5 194.28 L822.78 197.42 L823.07 203.64 L823.35 202.79 L823.63 180.13 L823.92 210 L824.2 171.71 L824.48 199.22 L824.77 205.8 L825.05 183.26 L825.33 185.93 L825.62 205.21 L825.9 183.72 L826.18 213.69 L826.47 203.78 L826.75 179.19 L827.03 195.77 L827.31 208.31 L827.6 186.54 L827.88 181.71 L828.16 192.97 L828.45 213.69 L828.73 196.85 L829.01 187.69 L829.3 183.48 L829.58 171.71 L829.86 195.73 L830.15 196.68 L830.43 193.02 L830.71 182.76 L830.99 200.46 L831.28 181.94 L831.56 207.69 L831.84 186.12 L832.13 198.27 L832.41 188.92 L832.69 219.7 L832.98 202.45 L833.26 193.41 L833.54 190.72 L833.83 187.86 L834.11 200.37 L834.39 200.88 L834.68 207.69 L834.96 177.71 L835.24 194.29 L835.52 194.53 L835.81 205.02 L836.09 185.03 L836.37 197.11 L836.66 180.86 L836.94 185.68 L837.22 192.53 L837.51 186.71 L837.79 201.87 L838.07 195.39 L838.36 197.45 L838.64 203.17 L838.92 192.56 L839.2 193.9 L839.49 180.87 L839.77 207.69 L840.05 198.24 L840.34 200.27 L840.62 196.53 L840.9 189.22 L841.19 189.37 L841.47 192.47 L841.75 196.61 L842.04 188.62 L842.32 189.73 L842.6 207.69 L842.88 194.86 L843.17 204.03 L843.45 202.44 L843.73 191.49 L844.02 192.2 L844.3 191.76 L844.58 199.92 L844.87 194.36 L845.15 200.22 L845.43 189.55 L845.72 187.02 L846 178.23 L846.28 182.26 L846.57 199.34 L846.85 196.47 L847.13 200.44 L847.41 190.18 L847.7 177.71 L847.98 186.86 L848.26 207.69 L848.55 203.07 L848.83 203.36 L849.11 188.45 L849.4 192.69 L849.68 190.23 L849.96 178.01 L850.25 199.52 L850.53 199.69 L850.81 177.71 L851.09 189.88 L851.38 199.12 L851.66 207.69 L851.94 205.27 L852.23 207.69 L852.51 192.14 L852.79 192.34 L853.08 184.51 L853.36 193.85 L853.64 198.42 L853.93 198.81 L854.21 177.71 L854.49 207.26 L854.78 191.27 L855.06 192.49 L855.34 187.62 L855.62 196.04 L855.91 188.58 L856.19 185.98 L856.47 193.92 L856.76 196.47 L857.04 194.24 L857.32 200.66 L857.61 194.41 L857.89 195.19 L858.17 190.97 L858.46 181.68 L858.74 181.92 L859.02 196.37 L859.3 187.73 L859.59 190.27 L859.87 212 L860.15 192.52 L860.44 190.51 L860.72 196.57 L861 199.17 L861.29 185.51 L861.57 181.99 L861.85 187.24 L862.14 189.11 L862.42 190.51 L862.7 196.41 L862.99 207.4 L863.27 187.23 L863.55 191.06 L863.83 197.27 L864.12 200.65 L864.4 182.16 L864.68 207.58 L864.97 210.8 L865.25 187.43 L865.53 177.71 L865.82 198.62 L866.1 192.88 L866.38 196.88 L866.67 191.42 L866.95 194.43 L867.23 198.87 L867.51 183.84 L867.8 199.17 L868.08 196.89 L868.36 188.13 L868.65 197.13 L868.93 196.28 L869.21 189.77 L869.5 195.73 L869.78 202.98 L870.06 193.54 L870.35 194.51 L870.63 178.64 L870.91 201.74 L871.19 184.71 L871.48 199.18 L871.76 195.63 L872.04 195.39 L872.33 190.47 L872.61 185.58 L872.89 178.27 L873.18 197.95 L873.46 181.74 L873.74 184.49 L874.03 186 L874.31 198.96 L874.59 185.27 L874.88 193.59 L875.16 189.79 L875.44 194.92 L875.72 187.22 L876.01 183.51 L876.29 183.38 L876.57 194.39 L876.86 184.49 L877.14 180.73 L877.42 200.41 L877.71 180.56 L877.99 203.71 L878.27 188.23 L878.56 187.8 L878.84 180.47 L879.12 190.4 L879.4 196.66 L879.69 199.27 L879.97 203.02 L880.25 187.82 L880.54 194.21 L880.82 197.27 L881.1 189.31 L881.39 197.57 L881.67 195.48 L881.95 195.62 L882.24 182.16 L882.52 183.38 L882.8 193.71 L883.09 202.71 L883.37 190.94 L883.65 192.24 L883.93 190.48 L884.22 189.1 L884.5 194.74 L884.78 186.81 L885.07 187.37 L885.35 191.36 L885.63 195.29 L885.92 195.76 L886.2 188.29 L886.48 199.7 L886.77 193.72 L887.05 197.48 L887.33 201.58 L887.61 188.85 L887.9 192.86 L888.18 192.47 L888.46 187.13 L888.75 202.22 L889.03 193.13 L889.31 190.86 L889.6 187.4 L889.88 199.61 L890.16 188.14 L890.45 191.3 L890.73 184.06 L891.01 185.45 L891.29 189.2 L891.58 180.71 L891.86 192.71 L892.14 195.4 L892.43 194.87 L892.71 198.69 L892.99 192.88 L893.28 204.67 L893.56 193.24 L893.84 189.99 L894.13 186.38 L894.41 194.91 L894.69 183.85 L894.98 196.85 L895.26 193.56 L895.54 204.66 L895.82 197.55 L896.11 197.74 L896.39 183.41 L896.67 189.4 L896.96 199.57 L897.24 189.38 L897.52 189.7 L897.81 194.15 L898.09 192.56 L898.37 194.6 L898.66 196.07 L898.94 203.73 L899.22 193.26 L899.5 184.71 L899.79 183.79 L900.07 194.43 L900.35 197.35 L900.64 194.02 L900.92 187.12 L901.2 190.51 L901.49 196.33 L901.77 190.45 L902.05 193.98 L902.34 189.49 L902.62 195.23 L902.9 201.85 L903.19 192.34 L903.47 187.97 L903.75 199.58 L904.03 193.37 L904.32 187.25 L904.6 195.03 L904.88 196.74 L905.17 180.71 L905.45 187.55 L905.73 186.32 L906.02 198.57 L906.3 182.57 L906.58 202.98 L906.87 195.92 L907.15 188.11 L907.43 184.45 L907.71 198.47 L908 196.82 L908.28 191.48 L908.56 204.65 L908.85 188.74 L909.13 189.23 L909.41 195.47 L909.7 189.37 L909.98 187.89 L910.26 190.79 L910.55 189.47 L910.83 183.33 L911.11 195.65 L911.4 191.7 L911.68 195.93 L911.96 186.31 L912.24 195.22 L912.53 189.77 L912.81 191.85 L913.09 192.29 L913.38 182.1 L913.66 193.22 L913.94 183.95 L914.23 187.6 L914.51 184.56 L914.79 193.72 L915.08 186.98 L915.36 188.04 L915.64 196.49 L915.92 191.04 L916.21 193.49 L916.49 192.92 L916.77 184.68 L917.06 197.14 L917.34 203.06 L917.62 203.42 L917.91 195.49 L918.19 196.67 L918.47 192.61 L918.76 189.22 L919.04 181.87 L919.32 190.8 L919.6 189.85 L919.89 197.22 L920.17 189.13 L920.45 184.35 L920.74 184.46 L921.02 204.69 L921.3 187.23 L921.59 182.97 L921.87 187.62 L922.15 201.88 L922.44 194.59 L922.72 189.09 L923 190.15 L923.29 197.68 L923.57 198.17 L923.85 186.77 L924.13 200.89 L924.42 183.9 L924.7 192.58 L924.98 190.85 L925.27 206.18 L925.55 198.72 L925.83 185.74 L926.12 207.56 L926.4 173.21 L926.68 206.88 L926.97 205.04 L927.25 192.26 L927.53 187.84 L927.81 185.3 L928.1 196.45 L928.38 194.79 L928.66 195.08 L928.95 198.5 L929.23 212.19 L929.51 183 L929.8 190.17 L930.08 191.1 L930.36 199.04 L930.65 190.17 L930.93 192.83 L931.21 193.47 L931.5 181.55 L931.78 210.06 L932.06 190.16 L932.34 203.45 L932.63 195.9 L932.91 177.59 L933.19 203.63 L933.48 193.71 L933.76 198.66 L934.04 183.13 L934.33 202.57 L934.61 209.66 L934.89 187.52 L935.18 196.27 L935.46 195.92 L935.74 181.81 L936.02 201.65 L936.31 196.46 L936.59 191.21 L936.87 188.53 L937.16 197.91 L937.44 182.27 L937.72 173.21 L938.01 196.82 L938.29 173.86 L938.57 172.7 L938.86 178.52 L939.14 216 L939.42 191.32 L939.71 196.12 L939.99 199.11 L940.27 205.57 L940.55 196.68 L940.84 179.64 L941.12 181.21 L941.4 196.21 L941.69 198.02 L941.97 199.77 L942.25 204.79 L942.54 174.52 L942.82 186.01 L943.1 191.52 L943.39 197.65 L943.67 203 L943.95 179.43 L944.23 184.83 L944.52 202.3 L944.8 182.73 L945.08 203.85 L945.37 186.23 L945.65 202.38 L945.93 196.88 L946.22 187.71 L946.5 188.34 L946.78 182.51 L947.07 201.13 L947.35 176.8 L947.63 179.16 L947.91 192.8 L948.2 188.01 L948.48 220 L948.76 194.23 L949.05 206 L949.33 191.8 L949.61 190.69 L949.9 170 L950.18 183.15 L950.46 184.49 L950.75 196.35 L951.03 194.96 L951.31 196.13 L951.6 190.46 L951.88 212.15 L952.16 223.7 L952.44 208.49 L952.73 197.89 L953.01 192.48 L953.29 197.87 L953.58 175.95 L953.86 193.68 L954.14 176.87 L954.43 180.88 L954.71 197.71 L954.99 188.66 L955.28 179.62 L955.56 196.06 L955.84 191.81 L956.12 198.32 L956.41 192.11 L956.69 196.26 L956.97 191.87 L957.26 182.61 L957.54 222.4 L957.82 191.36 L958.11 190.67 L958.39 184.08 L958.67 195.62 L958.96 203.36 L959.24 181.52 L959.52 169.4 L959.81 183.33 L960.09 202.42 L960.37 174.26 L960.65 203.22 L960.94 184.15 L961.22 177.6 L961.5 202.38 L961.79 177.74 L962.07 200.99 L962.35 210.47 L962.64 185.43 L962.92 185.63 L963.2 194.74 L963.49 212.19 L963.77 193.25 L964.05 195.78 L964.33 196.52 L964.62 195.62 L964.9 210.73 L965.18 198.41 L965.47 174.57 L965.75 177.12 L966.03 196.34 L966.32 199.87 L966.6 188.71 L966.88 182 L967.17 185.42 L967.45 204.48 L967.73 191.07 L968.01 191.29 L968.3 178.21 L968.58 180.65 L968.86 187.42 L969.15 180.45 L969.43 196.68 L969.71 177.21 L970 196.99 L970.28 188.71 L970.56 183.45 L970.85 201.9 L971.13 199.77 L971.41 219 L971.7 191.04 L971.98 193.25 L972.26 195.99 L972.54 187.68 L972.83 212.19 L973.11 192.94 L973.39 191.82 L973.68 195.38 L973.96 184.7 L974.24 175.05 L974.53 197.19 L974.81 202.17 L975.09 198.79 L975.38 225.8 L975.66 186.8 L975.94 201.37 L976.22 182.63 L976.51 203.02 L976.79 184.37 L977.07 188.4 L977.36 188.03 L977.64 173.21 L977.92 195.36 L978.21 194.37 L978.49 187.9 L978.77 184.01 L979.06 206.18 L979.34 169.4 L979.62 200.17 L979.91 186.35 L980.19 178.9 L980.47 192.18 L980.75 193.77 L981.04 190.85 L981.32 212.19 L981.6 184.94 L981.89 187.05 L982.17 191.04 L982.45 196.69 L982.74 200.06 L983.02 194.51 L983.3 180.48 L983.59 193.73 L983.87 179.13 L984.15 212.19 L984.43 197.33 L984.72 189.94 L985 192.84 L985.28 209.42 L985.57 199.4 L985.85 180.11 L986.13 205.71 L986.42 152 L986.7 203.75 L986.98 198.26 L987.27 186.23 L987.55 186.71 L987.83 212.19 L988.12 178 L988.4 198.67 L988.68 198.63 L988.96 175.9 L989.25 193.52 L989.53 205.19 L989.81 199.14 L990.1 200.02 L990.38 202.87 L990.66 168 L990.95 183.86 L991.23 189.17 L991.51 206.61 L991.8 173.21 L992.08 202.67 L992.36 191.53 L992.64 192.38 L992.93 185.03 L993.21 196.01 L993.49 188.1 L993.78 173.21 L994.06 191.74 L994.34 203.6 L994.63 189.39 L994.91 200.79 L995.19 196.43 L995.48 190.8 L995.76 189.31 L996.04 195.57 L996.32 184.15 L996.61 194.64 L996.89 205.84 L997.17 183.86 L997.46 196.37 L997.74 180.48 L998.02 199.3 L998.31 186.93 L998.59 189.53 L998.87 212.19 L999.16 207.74 L999.44 203.98 L999.72 178.53 L1000.01 203.57 L1000.29 187.44 L1000.57 186.41 L1000.85 189.85 L1001.14 188.82 L1001.42 195.55 L1001.7 192.76 L1001.99 191.41 L1002.27 190.28 L1002.55 188.63 L1002.84 193.89 L1003.12 196.74 L1003.4 195.94 L1003.69 190.33 L1003.97 202.26 L1004.25 199.92 L1004.53 195.07 L1004.82 195.88 L1005.1 194.26 L1005.38 204.69 L1005.67 194.66 L1005.95 194.15 L1006.23 188.23 L1006.52 204.1 L1006.8 194.46 L1007.08 189.97 L1007.37 189.88 L1007.65 185.81 L1007.93 186.62 L1008.22 198.74 L1008.5 189.04 L1008.78 194.63 L1009.06 197.33 L1009.35 183.86 L1009.63 196.33 L1009.91 197.62 L1010.2 195.05 L1010.48 197.61 L1010.76 186.9 L1011.05 190.51 L1011.33 184.63 L1011.61 190.33 L1011.9 196.25 L1012.18 186.66 L1012.46 196.48 L1012.74 195.37 L1013.03 193.67 L1013.31 192.47 L1013.59 185.81 L1013.88 196.2 L1014.16 190.67 L1014.44 192.86 L1014.73 199.96 L1015.01 199.02 L1015.29 193.97 L1015.58 190.37 L1015.86 190.85 L1016.14 189.93 L1016.42 192.42 L1016.71 195.29 L1016.99 190.24 L1017.27 198.49 L1017.56 200.46 L1017.84 194.62 L1018.12 200.96 L1018.41 195.67 L1018.69 197.02 L1018.97 195.9 L1019.26 192.96 L1019.54 197.32 L1019.82 195.14 L1020.11 202.58 L1020.39 191.86 L1020.67 178 L1020.95 190.36 L1021.24 204.69 L1021.52 197.33 L1021.8 191.3 L1022.09 204.69 L1022.37 194.78 L1022.65 192.15 L1022.94 192.1 L1023.22 201.35 L1023.5 191.37 L1023.79 191.84 L1024.07 198.32 L1024.35 188.39 L1024.63 192.98 L1024.92 192.59 L1025.2 195.3 L1025.48 189.53 L1025.77 192.14 L1026.05 186.12 L1026.33 190.09 L1026.62 196.27 L1026.9 193.99 L1027.18 187.38 L1027.47 194.81 L1027.75 190.48 L1028.03 189.68 L1028.32 193.74 L1028.6 204.69 L1028.88 191.94 L1029.16 191.46 L1029.45 191.91 L1029.73 197.1 L1030.01 185.69 L1030.3 193.48 L1030.58 196.31 L1030.86 196.86 L1031.15 190.62 L1031.43 199.02 L1031.71 198.5 L1032 181.1 L1032.28 185.1 L1032.56 186.59 L1032.84 184.78 L1033.13 189.25 L1033.41 202.47 L1033.69 185.77 L1033.98 185.51 L1034.26 189.86 L1034.54 204.05 L1034.83 185.49 L1035.11 184.78 L1035.39 195.56 L1035.68 191.96 L1035.96 188.19 L1036.24 193.19 L1036.53 186.32 L1036.81 192.23 L1037.09 188.69 L1037.37 192.2 L1037.66 201.29 L1037.94 198.48 L1038.22 180.71 L1038.51 191.08 L1038.79 185.09 L1039.07 186.09 L1039.36 182.74 L1039.64 189.48 L1039.92 196.16 L1040.21 192.61 L1040.49 202.18 L1040.77 193.63 L1041.05 188.22 L1041.34 202.82 L1041.62 191.73 L1041.9 188.63 L1042.19 186.14 L1042.47 197.28 L1042.75 195.92 L1043.04 201.97 L1043.32 197.74 L1043.6 190.06 L1043.89 182.58 L1044.17 198.37 L1044.45 185.88 L1044.73 190.59 L1045.02 195.15 L1045.3 182.58 L1045.58 202.82 L1045.87 193.03 L1046.15 191.62 L1046.43 182.58 L1046.72 183.8 L1047 182.58 L1047.28 192.04 L1047.57 187.84 L1047.85 185.95 L1048.13 190.17 L1048.42 190.92 L1048.7 193.61 L1048.98 194.72 L1049.26 198.79 L1049.55 183.05 L1049.83 194.91 L1050.11 202.82 L1050.4 191.39 L1050.68 192.87 L1050.96 191.83 L1051.25 183.71 L1051.53 193.23 L1051.81 194.02 L1052.1 196.4 L1052.38 192.81 L1052.66 194.87 L1052.94 191.69 L1053.23 182.58 L1053.51 190.75 L1053.79 196.95 L1054.08 183.13 L1054.36 188.42 L1054.64 188.65 L1054.93 189.16 L1055.21 188.64 L1055.49 189.35 L1055.78 185.71 L1056.06 187.71 L1056.34 186.01 L1056.63 195.19 L1056.91 192.71 L1057.19 196.32 L1057.47 178 L1057.76 188.58 L1058.04 195.01 L1058.32 189.8 L1058.61 182.58 L1058.89 186.57 L1059.17 198.24 L1059.46 193.16 L1059.74 189.55 L1060.02 192.88 L1060.31 190.78 L1060.59 186.85 L1060.87 191.07 L1061.15 198.15 L1061.44 189.15 L1061.72 193.18 L1062 192.13 L1062.29 195.51 L1062.57 199.56 L1062.85 198.89 L1063.14 194.45 L1063.42 198.01 L1063.7 202.82 L1063.99 187 L1064.27 198.47 L1064.55 196.3 L1064.83 190.06 L1065.12 202.82 L1065.4 186.04 L1065.68 196.52 L1065.97 189.42 L1066.25 195.09 L1066.53 191.18 L1066.82 192.18 L1067.1 192.71 L1067.38 201.77 L1067.67 200 L1067.95 192.91 L1068.23 185.7 L1068.52 195.41 L1068.8 190.06 L1069.08 191.89 L1069.36 190.3 L1069.65 187.78 L1069.93 200.14 L1070.21 191.34 L1070.5 193.58 L1070.78 194.25 L1071.06 196.94 L1071.35 196.6 L1071.63 197.81 L1071.91 198.15 L1072.2 182.58 L1072.48 184.26 L1072.76 192.65 L1073.04 189.01 L1073.33 197.55 L1073.61 202.82 L1073.89 201.75 L1074.18 192 L1074.46 185.55 L1074.74 192.91 L1075.03 197.67 L1075.31 193.9 L1075.59 197.65 L1075.88 199.63 L1076.16 193.85 L1076.44 194.68 L1076.73 196.73 L1077.01 197.1 L1077.29 197.32 L1077.57 191.53 L1077.86 185.78 L1078.14 176 L1078.42 182.58 L1078.71 200.74 L1078.99 191.34 L1079.27 198.44 L1079.56 193.5 L1079.84 192.19 L1080.12 189.92 L1080.41 187.09 L1080.69 195.46 L1080.97 198.87 L1081.25 193.63 L1081.54 191.24 L1081.82 196.17 L1082.1 188.26 L1082.39 184.34 L1082.67 199.76 L1082.95 190.9 L1083.24 187.65 L1083.52 202.25 L1083.8 191.68 L1084.09 193.82 L1084.37 199.77 L1084.65 186.16 L1084.94 191.62 L1085.22 195.08 L1085.5 190.5 L1085.78 189.51 L1086.07 188.88 L1086.35 189.82 L1086.63 190.67 L1086.92 198.54 L1087.2 194.79 L1087.48 192.06 L1087.77 202.82 L1088.05 182.58 L1088.33 194.59 L1088.62 197.94 L1088.9 201.74 L1089.18 191.46 L1089.46 192.54 L1089.75 195.6 L1090.03 194.77 L1090.31 197.11 L1090.6 196.42 L1090.88 193.19 L1091.16 195.9 L1091.45 189.33 L1091.73 193.41 L1092.01 192.04 L1092.3 190.69 L1092.58 186.39 L1092.86 189.71 L1093.14 191.57 L1093.43 193.51 L1093.71 196.7 L1093.99 194.4 L1094.28 189.31 L1094.56 191.57 L1094.84 194.63 L1095.13 199.32 L1095.41 200.31 L1095.69 191.1 L1095.98 187.6 L1096.26 190.84 L1096.54 199.52 L1096.83 193.76 L1097.11 191.6 L1097.39 197.26 L1097.67 190.98 L1097.96 193.69 L1098.24 196.85 L1098.52 198.87 L1098.81 188.67 L1099.09 190.93 L1099.37 197.11 L1099.66 197.74 L1099.94 188.28 L1100.22 189.74 L1100.51 194.21 L1100.79 184.79 L1101.07 194.14 L1101.35 197.94 L1101.64 187.28 L1101.92 193.63 L1102.2 190.99 L1102.49 192.51 L1102.77 197.67 L1103.05 198.59 L1103.34 193.66 L1103.62 185.72 L1103.9 197.68 L1104.19 185.96 L1104.47 191.61 L1104.75 198.22 L1105.04 191.38 L1105.32 189.88 L1105.6 197.16 L1105.88 202.82 L1106.17 190.93 L1106.45 198.21 L1106.73 190.51 L1107.02 202.18 L1107.3 193.4 L1107.58 196.72 L1107.87 200.05 L1108.15 193.9 L1108.43 191.85 L1108.72 195.46 L1109 198.56 L1109.28 191.65 L1109.56 201.37 L1109.85 190.05 L1110.13 215 L1110.41 184.38 L1110.7 175 L1110.98 190.94 L1111.26 191.39 L1111.55 192.56 L1111.83 199.27 L1112.11 185.45 L1112.4 190.09 L1112.68 194.12 L1112.96 198.38 L1113.24 185.35 L1113.53 190.06 L1113.81 198.57 L1114.09 189.37 L1114.38 183.31 L1114.66 192.81 L1114.94 190.72 L1115.23 194.76 L1115.51 195.81 L1115.79 187.39 L1116.08 208 L1116.36 192.12 L1116.64 193.31 L1116.93 188.77 L1117.21 194.21 L1117.49 189.09 L1117.77 188.6 L1118.06 197.73 L1118.34 198.01 L1118.62 193.07 L1118.91 188.58 L1119.19 191.33 L1119.47 186.56 L1119.76 199.51 L1120.04 190.26 L1120.32 195.78 L1120.61 192.2 L1120.89 191.11 L1121.17 197.5 L1121.45 193.83 L1121.74 198.46 L1122.02 191.38 L1122.3 196.9 L1122.59 195.14 L1122.87 191.62 L1123.15 195.93 L1123.44 187.02 L1123.72 195.85 L1124 188.5 L1124.29 191.3 L1124.57 197.81 L1124.85 193.78 L1125.14 196.84 L1125.42 194.49 L1125.7 194.04 L1125.98 183.71 L1126.27 194.77 L1126.55 184.95 L1126.83 190.49 L1127.12 199.16 L1127.4 202.82 L1127.68 189.35 L1127.97 173 L1128.25 189.15 L1128.53 187.62 L1128.82 190.77 L1129.1 193.74 L1129.38 193.94 L1129.66 191.42 L1129.95 194.2 L1130.23 195.34 L1130.51 194.53 L1130.8 186.92 L1131.08 195.76 L1131.36 190.83 L1131.65 198.38 L1131.93 196.22 L1132.21 199.48 L1132.5 193.68 L1132.78 189.33 L1133.06 191.19 L1133.35 195.13 L1133.63 189.68 L1133.91 194.41 L1134.19 190.86 L1134.48 191.35 L1134.76 190.03 L1135.04 202.82 L1135.33 199.13 L1135.61 188.88 L1135.89 215.6 L1136.18 182.58 L1136.46 193.86 L1136.74 195.42 L1137.03 185.33 L1137.31 189.96 L1137.59 183.34 L1137.87 190.19 L1138.16 193.7 L1138.44 189.13 L1138.72 196.58 L1139.01 194.9 L1139.29 195.44 L1139.57 193.79 L1139.86 188.86 L1140.14 195.07 L1140.42 191.11 L1140.71 195.16 L1140.99 188.35 L1141.27 202.82 L1141.55 193.72 L1141.84 191.87 L1142.12 198.02 L1142.4 187.71 L1142.69 191.63 L1142.97 186.39 L1143.25 187.96 L1143.54 189.54 L1143.82 193.44 L1144.1 198.05 L1144.39 193.79 L1144.67 194.97 L1144.95 191.47 L1145.24 194.99 L1145.52 182.58 L1145.8 200.57 L1146.08 186.92 L1146.37 195.01 L1146.65 193.89 L1146.93 188.14 L1147.22 192.69 L1147.5 198.67" fill="none" stroke="#FFFF00" stroke-width="1" stroke-linejoin="miter" stroke-linecap="butt" shape-rendering="crispEdges"/>
</g>
<g shape-rendering="crispEdges">
<rect x="1002.5" y="65.5" width="164.0" height="48" fill="#fff" stroke="#000"/>
<line x1="1014" y1="81" x2="1039" y2="81" stroke="#0000FF" stroke-width="2" />
<line x1="1014" y1="97.5" x2="1039" y2="97.5" stroke="#FFFF00" stroke-width="1" />
</g>
<text transform="translate(1050 87) scale(0.9286 1)" x="0 9.69 21.54 31.23 38.77 43.08 50.62 54.92 62.46 70 77.54 81.85 86.15 93.69 98 105.54 109.85" y="0" font-size="14">AMAL stock return</text>
<text transform="translate(1050 103) scale(0.9286 1)" x="0 10.77 20.46 30.15 39.85 44.15 51.69 56 63.54 71.08 78.62 82.92 87.23 94.77 99.08 106.62 110.92" y="0" font-size="14">GSPC stock return</text>
<g shape-rendering="crispEdges">
<rect x="65.5" y="465.5" width="501.0" height="253.0" fill="none" stroke="#000" stroke-width="1"/>
<line x1="92.5" y1="718" x2="92.5" y2="727" stroke="#000" stroke-width="1" />
<text transform="translate(77 748) scale(0.9286 1)" x="0 4.31 11.85 16.15 23.69" y="0" font-size="14">-0.15</text>
<line x1="166.5" y1="718" x2="166.5" y2="727" stroke="#000" stroke-width="1" />
<text transform="translate(151 748) scale(0.9286 1)" x="0 4.31 11.85 16.15 23.69" y="0" font-size="14">-0.10</text>
<line x1="240.5" y1="718" x2="240.5" y2="727" stroke="#000" stroke-width="1" />
<text transform="translate(225 748) scale(0.9286 1)" x="0 4.31 11.85 16.15 23.69" y="0" font-size="14">-0.05</text>
<line x1="314.5" y1="718" x2="314.5" y2="727" stroke="#000" stroke-width="1" />
<text transform="translate(301 748) scale(0.9286 1)" x="0 7.54 11.85 19.38" y="0" font-size="14">0.00</text>
<line x1="389.5" y1="718" x2="389.5" y2="727" stroke="#000" stroke-width="1" />
<text transform="translate(376 748) scale(0.9286 1)" x="0 7.54 11.85 19.38" y="0" font-size="14">0.05</text>
<line x1="463.5" y1="718" x2="463.5" y2="727" stroke="#000" stroke-width="1" />
<text transform="translate(450 748) scale(0.9286 1)" x="0 7.54 11.85 19.38" y="0" font-size="14">0.10</text>
<line x1="537.5" y1="718" x2="537.5" y2="727" stroke="#000" stroke-width="1" />
<text transform="translate(524 748) scale(0.9286 1)" x="0 7.54 11.85 19.38" y="0" font-size="14">0.15</text>
<line x1="57" y1="484.5" x2="66" y2="484.5" stroke="#000" stroke-width="1" />
<text transform="translate(47 491.8) rotate(-90) scale(0.9286 1)" x="0 7.54" y="0" font-size="14">50</text>
<line x1="57" y1="529.5" x2="66" y2="529.5" stroke="#000" stroke-width="1" />
<text transform="translate(47 536.8) rotate(-90) scale(0.9286 1)" x="0 7.54" y="0" font-size="14">40</text>
<line x1="57" y1="574.5" x2="66" y2="574.5" stroke="#000" stroke-width="1" />
<text transform="translate(47 581.8) rotate(-90) scale(0.9286 1)" x="0 7.54" y="0" font-size="14">30</text>
<line x1="57" y1="619.5" x2="66" y2="619.5" stroke="#000" stroke-width="1" />
<text transform="translate(47 626.8) rotate(-90) scale(0.9286 1)" x="0 7.54" y="0" font-size="14">20</text>
<line x1="57" y1="664.5" x2="66" y2="664.5" stroke="#000" stroke-width="1" />
<text transform="translate(47 671.8) rotate(-90) scale(0.9286 1)" x="0 7.54" y="0" font-size="14">10</text>
<line x1="57" y1="709.5" x2="66" y2="709.5" stroke="#000" stroke-width="1" />
<text transform="translate(47 713.3) rotate(-90) scale(0.9286 1)" x="0" y="0" font-size="14">0</text>
</g>
<text x="137.6" y="439.5" font-size="16" font-weight="bold" textLength="44.78" lengthAdjust="spacingAndGlyphs">AMAL</text>
<text x="186.65" y="439.5" font-size="16" font-weight="bold" textLength="50.95" lengthAdjust="spacingAndGlyphs">versus</text>
<text x="243.65" y="439.5" font-size="16" font-weight="bold" textLength="59.08" lengthAdjust="spacingAndGlyphs">S&amp;P500</text>
<text x="308.2" y="439.5" font-size="16" font-weight="bold" textLength="41.43" lengthAdjust="spacingAndGlyphs">stock</text>
<text x="354.7" y="439.5" font-size="16" font-weight="bold" textLength="44.96" lengthAdjust="spacingAndGlyphs">return</text>
<text x="404.2" y="439.5" font-size="16" font-weight="bold" textLength="86.36" lengthAdjust="spacingAndGlyphs">distribution</text>
<path d="M68 709 L118 709 L118 708 L138 708 L138 709 L143 709 L143 708 L201 708 L201 707 L217.5 705.5 L223.5 704.5 L229.5 703.6 L233.7 703.3 L244.2 702 L254.7 699.3 L260 694.6 L265.2 690.2 L270.5 687 L275.7 684.6 L279.2 679.7 L282.7 672.7 L286.2 665.7 L289.7 657 L292.3 646.5 L294.1 639.5 L295 634.2 L297.6 629 L300.2 623.7 L303.7 617.6 L307.2 613.2 L310.7 609.7 L312.5 608.5 L315.1 610 L319.5 614.1 L324.7 619.4 L328.2 623.7 L330.8 629 L333.4 637.7 L336.9 648.2 L340.4 658.7 L343.9 667.5 L347.4 673.6 L352.7 678.8 L357.9 683.2 L364.9 689.3 L371.9 694.6 L377.2 697.2 L382.4 698.4 L389.4 699.8 L396 703.2 L400 704.5 L403 705.5 L406.5 706.5 L410 707 L419.8 707 L419.8 708 L437.5 708 L437.5 707 L452.4 707 L452.4 708 L468.7 708 L468.7 709 L504 709 L504 708 L521 708 L521 709 L565 709" fill="none" stroke="#228B22" stroke-width="2" stroke-linejoin="round" stroke-linecap="butt" shape-rendering="crispEdges"/>
<path d="M232.5 708.5 L244.2 708.4 L249.5 706.5 L256.5 706.8 L262.6 702.4 L267.9 700.7 L271.4 699 L274.9 700.2 L279.2 697.5 L282.7 694.6 L285.3 688.4 L288 681.5 L291.5 673.6 L295 665.7 L296.7 660.5 L298.5 648.2 L300.2 632.5 L302 615 L303.7 601 L305.5 590 L306.2 581 L307.3 569 L308 560 L308.5 551 L309.2 539 L310 530 L310.7 518 L311.75 506 L312.5 494 L314 485 L315.5 480.2 L317 485 L318.2 494 L319.3 506 L320.5 518 L321.2 530 L322.7 542 L323.8 551 L325 563 L326.5 575 L328.3 587 L329.1 590.5 L330.8 604.5 L332.6 618.5 L334.3 634.2 L336.1 650 L337.8 662.2 L339.6 672.7 L341.3 681.5 L343.9 689.3 L346.6 693.7 L350.1 696.3 L353.6 700.7 L356.2 704.2 L360.6 705 L364.9 706.8 L369.3 708.6 L382.4 708.5 L385.9 707.7 L387.7 708.5 L408 708.5" fill="none" stroke="#FFA500" stroke-width="1" stroke-linejoin="round" stroke-linecap="butt" shape-rendering="crispEdges"/>
<g shape-rendering="crispEdges">
<line x1="122" y1="708.5" x2="129" y2="708.5" stroke="#FFA500" stroke-width="1" />
<line x1="164" y1="708.5" x2="170" y2="708.5" stroke="#FFA500" stroke-width="1" />
<line x1="195" y1="708.5" x2="201" y2="708.5" stroke="#FFA500" stroke-width="1" />
<line x1="223" y1="708.5" x2="228" y2="708.5" stroke="#FFA500" stroke-width="1" />
<line x1="400" y1="708.5" x2="408" y2="708.5" stroke="#FFA500" stroke-width="1" />
<line x1="413" y1="708.5" x2="419" y2="708.5" stroke="#FFA500" stroke-width="1" />
<line x1="443" y1="708.5" x2="452" y2="708.5" stroke="#FFA500" stroke-width="1" />
<line x1="65.5" y1="709.5" x2="566.5" y2="709.5" stroke="#BEBEBE" stroke-width="1" />
<rect x="65.5" y="465.5" width="195.2" height="48" fill="#fff" stroke="#000"/>
<line x1="77" y1="481" x2="102" y2="481" stroke="#228B22" stroke-width="2" />
<line x1="77" y1="497.5" x2="102" y2="497.5" stroke="#FFA500" stroke-width="1" />
</g>
<text transform="translate(113.3 487) scale(0.9286 1)" x="0 9.69 21.54 31.23 38.77 43.08 47.38 54.92 59.23 66.77 71.08 78.62 82.92 90.46 93.69 101.23 105.54 109.85 113.08 120.62 128.15 132.46 135.69 143.23" y="0" font-size="14">AMAL return distribution</text>
<text transform="translate(113.3 503) scale(0.9286 1)" x="0 10.77 20.46 30.15 39.85 44.15 48.46 56 60.31 67.85 72.15 79.69 84 91.54 94.77 102.31 106.62 110.92 114.15 121.69 129.23 133.54 136.77 144.31" y="0" font-size="14">GSPC return distribution</text>
<g shape-rendering="crispEdges">
<clipPath id="c4"><rect x="664.5" y="465.0" width="503.0" height="255.0"/></clipPath>
<g clip-path="url(#c4)">
<rect x="683.5" y="715.5" width="5" height="1" fill="#0000FF" stroke="#000" stroke-width="1"/>
<rect x="688" y="716" width="6" height="1" fill="#000"/>
<rect x="699" y="716" width="6" height="1" fill="#000"/>
<rect x="704" y="716" width="6" height="1" fill="#000"/>
<rect x="714.5" y="715.5" width="6" height="1" fill="#0000FF" stroke="#000" stroke-width="1"/>
<rect x="720.5" y="715.5" width="5" height="1" fill="#FFFF00" stroke="#000" stroke-width="1"/>
<rect x="730.5" y="715.5" width="5" height="1" fill="#0000FF" stroke="#000" stroke-width="1"/>
<rect x="735" y="716" width="6" height="1" fill="#000"/>
<rect x="746.5" y="714.5" width="5" height="2" fill="#0000FF" stroke="#000" stroke-width="1"/>
<rect x="751" y="716" width="6" height="1" fill="#000"/>
<rect x="761.5" y="715.5" width="6" height="1" fill="#0000FF" stroke="#000" stroke-width="1"/>
<rect x="767.5" y="715.5" width="5" height="1" fill="#FFFF00" stroke="#000" stroke-width="1"/>
<rect x="777.5" y="714.5" width="5" height="2" fill="#0000FF" stroke="#000" stroke-width="1"/>
<rect x="782" y="716" width="6" height="1" fill="#000"/>
<rect x="793.5" y="714.5" width="5" height="2" fill="#0000FF" stroke="#000" stroke-width="1"/>
<rect x="798.5" y="715.5" width="5" height="1" fill="#FFFF00" stroke="#000" stroke-width="1"/>
<rect x="808.5" y="712.5" width="6" height="4" fill="#0000FF" stroke="#000" stroke-width="1"/>
<rect x="814" y="716" width="6" height="1" fill="#000"/>
<rect x="824.5" y="708.5" width="5" height="8" fill="#0000FF" stroke="#000" stroke-width="1"/>
<rect x="829.5" y="715.5" width="5" height="1" fill="#FFFF00" stroke="#000" stroke-width="1"/>
<rect x="840.5" y="706.5" width="5" height="10" fill="#0000FF" stroke="#000" stroke-width="1"/>
<rect x="845.5" y="714.5" width="5" height="2" fill="#FFFF00" stroke="#000" stroke-width="1"/>
<rect x="855.5" y="693.5" width="6" height="23" fill="#0000FF" stroke="#000" stroke-width="1"/>
<rect x="861.5" y="710.5" width="5" height="6" fill="#FFFF00" stroke="#000" stroke-width="1"/>
<rect x="871.5" y="673.5" width="5" height="43" fill="#0000FF" stroke="#000" stroke-width="1"/>
<rect x="876.5" y="699.5" width="5" height="17" fill="#FFFF00" stroke="#000" stroke-width="1"/>
<rect x="887.5" y="620.5" width="5" height="96" fill="#0000FF" stroke="#000" stroke-width="1"/>
<rect x="892.5" y="658.5" width="5" height="58" fill="#FFFF00" stroke="#000" stroke-width="1"/>
<rect x="902.5" y="565.5" width="6" height="151" fill="#0000FF" stroke="#000" stroke-width="1"/>
<rect x="908.5" y="475.5" width="5" height="241" fill="#FFFF00" stroke="#000" stroke-width="1"/>
<rect x="918.5" y="579.5" width="5" height="137" fill="#0000FF" stroke="#000" stroke-width="1"/>
<rect x="923.5" y="457.5" width="5" height="259" fill="#FFFF00" stroke="#000" stroke-width="1"/>
<rect x="934.5" y="631.5" width="5" height="85" fill="#0000FF" stroke="#000" stroke-width="1"/>
<rect x="939.5" y="649.5" width="5" height="67" fill="#FFFF00" stroke="#000" stroke-width="1"/>
<rect x="949.5" y="671.5" width="5" height="45" fill="#0000FF" stroke="#000" stroke-width="1"/>
<rect x="954.5" y="703.5" width="6" height="13" fill="#FFFF00" stroke="#000" stroke-width="1"/>
<rect x="965.5" y="693.5" width="5" height="23" fill="#0000FF" stroke="#000" stroke-width="1"/>
<rect x="970.5" y="714.5" width="5" height="2" fill="#FFFF00" stroke="#000" stroke-width="1"/>
<rect x="981.5" y="703.5" width="5" height="13" fill="#0000FF" stroke="#000" stroke-width="1"/>
<rect x="986.5" y="715.5" width="5" height="1" fill="#FFFF00" stroke="#000" stroke-width="1"/>
<rect x="996.5" y="708.5" width="5" height="8" fill="#0000FF" stroke="#000" stroke-width="1"/>
<rect x="1001.5" y="715.5" width="6" height="1" fill="#FFFF00" stroke="#000" stroke-width="1"/>
<rect x="1012.5" y="713.5" width="5" height="3" fill="#0000FF" stroke="#000" stroke-width="1"/>
<rect x="1017.5" y="715.5" width="5" height="1" fill="#FFFF00" stroke="#000" stroke-width="1"/>
<rect x="1028.5" y="715.5" width="5" height="1" fill="#0000FF" stroke="#000" stroke-width="1"/>
<rect x="1033" y="716" width="6" height="1" fill="#000"/>
<rect x="1043.5" y="713.5" width="5" height="3" fill="#0000FF" stroke="#000" stroke-width="1"/>
<rect x="1048.5" y="715.5" width="6" height="1" fill="#FFFF00" stroke="#000" stroke-width="1"/>
<rect x="1059.5" y="715.5" width="5" height="1" fill="#0000FF" stroke="#000" stroke-width="1"/>
<rect x="1064" y="716" width="6" height="1" fill="#000"/>
<rect x="1075.5" y="715.5" width="5" height="1" fill="#0000FF" stroke="#000" stroke-width="1"/>
<rect x="1080" y="716" width="6" height="1" fill="#000"/>
<rect x="1090" y="716" width="6" height="1" fill="#000"/>
<rect x="1095" y="716" width="7" height="1" fill="#000"/>
<rect x="1106.5" y="715.5" width="5" height="1" fill="#0000FF" stroke="#000" stroke-width="1"/>
<rect x="1111" y="716" width="6" height="1" fill="#000"/>
<rect x="1122.5" y="715.5" width="5" height="1" fill="#0000FF" stroke="#000" stroke-width="1"/>
<rect x="1127" y="716" width="6" height="1" fill="#000"/>
<rect x="1137" y="716" width="6" height="1" fill="#000"/>
<rect x="1142" y="716" width="7" height="1" fill="#000"/>
</g>
<rect x="665.5" y="465.5" width="501.0" height="253.0" fill="none" stroke="#000" stroke-width="1"/>
<line x1="657" y1="473.5" x2="666" y2="473.5" stroke="#000" stroke-width="1" />
<text transform="translate(647 484.3) rotate(-90) scale(0.9286 1)" x="0 7.54 15.08" y="0" font-size="14">600</text>
<line x1="657" y1="513.5" x2="666" y2="513.5" stroke="#000" stroke-width="1" />
<text transform="translate(647 524.3) rotate(-90) scale(0.9286 1)" x="0 7.54 15.08" y="0" font-size="14">500</text>
<line x1="657" y1="554.5" x2="666" y2="554.5" stroke="#000" stroke-width="1" />
<text transform="translate(647 565.3) rotate(-90) scale(0.9286 1)" x="0 7.54 15.08" y="0" font-size="14">400</text>
<line x1="657" y1="594.5" x2="666" y2="594.5" stroke="#000" stroke-width="1" />
<text transform="translate(647 605.3) rotate(-90) scale(0.9286 1)" x="0 7.54 15.08" y="0" font-size="14">300</text>
<line x1="657" y1="635.5" x2="666" y2="635.5" stroke="#000" stroke-width="1" />
<text transform="translate(647 646.3) rotate(-90) scale(0.9286 1)" x="0 7.54 15.08" y="0" font-size="14">200</text>
<line x1="657" y1="675.5" x2="666" y2="675.5" stroke="#000" stroke-width="1" />
<text transform="translate(647 686.3) rotate(-90) scale(0.9286 1)" x="0 7.54 15.08" y="0" font-size="14">100</text>
<line x1="657" y1="716.5" x2="666" y2="716.5" stroke="#000" stroke-width="1" />
<text transform="translate(647 720.3) rotate(-90) scale(0.9286 1)" x="0" y="0" font-size="14">0</text>
<rect x="993.5" y="465.5" width="173.0" height="48" fill="#fff" stroke="#000"/>
<rect x="1005.5" y="477.5" width="9" height="8" fill="#0000FF" stroke="#000"/>
<rect x="1005.5" y="493.5" width="9" height="8" fill="#FFFF00" stroke="#000"/>
</g>
<text x="720.9" y="439.5" font-size="16" font-weight="bold" textLength="44.73" lengthAdjust="spacingAndGlyphs">AMAL</text>
<text x="769.9" y="439.5" font-size="16" font-weight="bold" textLength="51.14" lengthAdjust="spacingAndGlyphs">versus</text>
<text x="827.2" y="439.5" font-size="16" font-weight="bold" textLength="59.03" lengthAdjust="spacingAndGlyphs">S&amp;P500</text>
<text x="892.7" y="439.5" font-size="16" font-weight="bold" textLength="44.25" lengthAdjust="spacingAndGlyphs">return</text>
<text x="942" y="439.5" font-size="16" font-weight="bold" textLength="73.55" lengthAdjust="spacingAndGlyphs">frequency</text>
<text x="1022.3" y="439.5" font-size="16" font-weight="bold" textLength="86.26" lengthAdjust="spacingAndGlyphs">distribution</text>
<text transform="translate(1026.25 487) scale(0.9286 1)" x="0 9.69 21.54 31.23 38.77 43.08 47.38 54.92 59.23 66.77 71.08 78.62 82.92 87.23 91.54 99.08 106.62 114.15 121.69 129.23 136.77" y="0" font-size="14">AMAL return frequency</text>
<text transform="translate(1026.25 503) scale(0.9286 1)" x="0 10.77 20.46 30.15 39.85 44.15 48.46 56 60.31 67.85 72.15 79.69 84 88.31 92.62 100.15 107.69 115.23 122.77 130.31 137.85" y="0" font-size="14">GSPC return frequency</text>
<text transform="translate(647.6 748) scale(0.9286 1)" x="0 4.31 8.62 16.15 20.46 28 35.54 43.08 47.38 51.69 59.23 63.54 71.08 78.62 86.15" y="0" font-size="14">[-0.156,-0.145)</text>
<text transform="translate(749.6 748) scale(0.9286 1)" x="0 4.31 8.62 16.15 20.46 28 35.54 43.08 50.62 54.92 59.23 66.77 71.08 78.62 86.15 93.69 101.23" y="0" font-size="14">[-0.0827,-0.0723)</text>
<text transform="translate(871.5 748) scale(0.9286 1)" x="0 4.31 11.85 16.15 23.69 31.23 38.77 46.31 53.85 61.38 65.69 73.23 77.54 85.08 92.62 100.15 107.69" y="0" font-size="14">[0.000714,0.0111)</text>
<text transform="translate(988.5 748) scale(0.9286 1)" x="0 4.31 11.85 16.15 23.69 31.23 38.77 46.31 50.62 58.15 62.46 70 77.54 85.08 92.62" y="0" font-size="14">[0.0737,0.0841)</text>
<text transform="translate(1104.7 748) scale(0.9286 1)" x="0 4.31 11.85 16.15 23.69 31.23 38.77 43.08 50.62 54.92 62.46 70 77.54" y="0" font-size="14">[0.147,0.157)</text>
<text transform="translate(897.5 780) scale(0.9286 1)" x="0 4.31 11.85 16.15 23.69 28" y="0" font-size="14">return</text>
<text transform="translate(615 621) rotate(-90) scale(0.9286 1)" x="0 4.31 8.62 16.15 23.69 31.23 38.77 46.31 53.85" y="0" font-size="14">frequency</text>
</svg></body></html>
